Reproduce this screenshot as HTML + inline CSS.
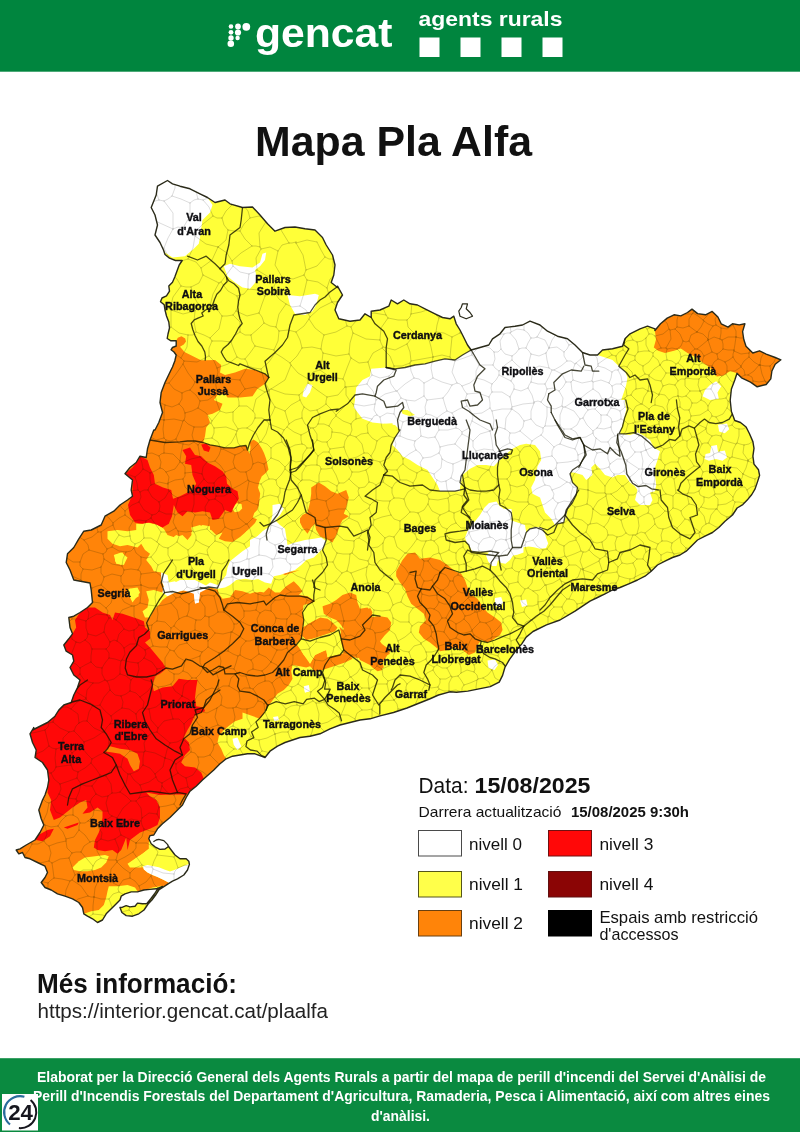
<!DOCTYPE html>
<html lang="ca"><head><meta charset="utf-8"><title>Mapa Pla Alfa</title>
<style>html,body{margin:0;padding:0;background:#fff}body{width:800px;height:1132px;overflow:hidden}svg{display:block}.ls{font-family:"Liberation Sans",sans-serif}</style></head><body>
<svg width="800" height="1132" viewBox="0 0 800 1132">
<rect x="0" y="0" width="800" height="1132" fill="#ffffff"/>
<rect x="0" y="0" width="800" height="71.7" fill="#00853e"/>
<g fill="#fff">
<circle cx="231" cy="26.5" r="2.3"/><circle cx="238" cy="26.5" r="2.9"/><circle cx="246.3" cy="26.8" r="3.9"/>
<circle cx="231" cy="32.3" r="2.4"/><circle cx="238" cy="32.5" r="3.1"/>
<circle cx="231" cy="38" r="2.7"/><circle cx="237.6" cy="38" r="2.2"/>
<circle cx="230.8" cy="43.8" r="3.3"/>
<text class="ls" x="255" y="46.5" font-size="40" font-weight="bold" textLength="137.5" lengthAdjust="spacingAndGlyphs">gencat</text>
<text class="ls" x="418.5" y="26.4" font-size="21" font-weight="bold" textLength="144" lengthAdjust="spacingAndGlyphs">agents rurals</text>
<rect x="419.5" y="37.5" width="20" height="19.5"/><rect x="460.5" y="37.5" width="20" height="19.5"/><rect x="501.5" y="37.5" width="20" height="19.5"/><rect x="542.5" y="37.5" width="20" height="19.5"/>
</g>
<text class="ls" x="255" y="156" font-size="43" font-weight="bold" fill="#111" textLength="277" lengthAdjust="spacingAndGlyphs">Mapa Pla Alfa</text>
<g id="map" stroke-linejoin="round" stroke-linecap="round">
<clipPath id="cat"><polygon points="157.5,186.2 167.5,180.5 172.5,183.8 180,186.2 190,188.8 200,193.8 207.5,197.5 215,202.5 225,200 230,203.8 242.5,207.5 252.5,207 260,215 267.5,223.8 275,231.2 285,227.5 295,227 305,228.8 315,230 322.5,237.5 326.2,245 332.5,255 335,265 333.8,275 331.2,282.5 337.5,287.5 337.5,286.2 342.5,295 337.5,302.5 335,310 338.8,318.8 350,321.2 360,320 365,313.8 371.2,317.5 371.2,311.2 380,310 388.8,306.2 391.2,300 397.5,303.8 403.8,300 410,303.8 417.5,305 425,308.8 435,313.8 442.5,317.5 450,318.8 453.8,316.2 456.2,323.8 460,330 463.8,337.5 467.5,345 471.2,350 480,347.5 488.8,345 492.5,338.8 500,333.8 505,327.5 515,326.2 522.5,325 530,321.2 540,325 547.5,331.2 557.5,336.2 567.5,338.8 575,345 582.5,352.5 590,355 597.5,355 602.5,350 612.5,348.8 622.5,346.2 625,338.8 630,333.8 640,328.8 647.5,326.2 655,328.8 654.9,330.5 660.5,323.8 667.2,318.1 674,314.8 680.8,315.9 687.5,312.5 692,309.1 697.6,313.6 705.5,314.8 712.2,311.4 717.9,317 721.2,323.8 728,327.1 732.5,323.8 739.2,324.9 744.9,323.8 742.6,331.6 743.8,339.5 746,346.2 752.8,353 759.5,350.8 766.2,354.1 775.2,357.5 780.9,359.8 775.2,364.2 771.9,371 770.8,378.9 766.2,384.5 757.2,386.8 750.5,382.2 741.5,377.8 737,373.2 734.8,380 731.4,389 730.2,400.2 731.4,411.5 734.8,420.5 740.5,422.5 746.1,427 749.5,433.8 752.9,441.6 754,448.4 752.9,456.2 754,464.1 758.5,469.8 759.6,475.4 757.4,482.1 755.1,488.9 751.8,494.5 747.2,500.1 742.8,504.6 737.1,508 732.5,515 725,521.2 718.8,527.5 712.5,532.5 705,536.2 697.5,540 692.5,545 686.2,551.2 680,555 672.5,557.5 665,561.2 657.5,565 651.2,571.2 645,576.2 637.5,580 628.8,583.8 620,587.5 612.5,590 605,593.8 597.5,597.5 590,601.2 582.5,606.2 575,611.2 560,620 546.5,624.8 533,631.5 526.2,637.1 521.8,643.9 515,651.8 509.4,659.6 504.9,667.5 502.6,675.4 499.2,682.1 490.2,686.6 479,688.9 467.8,691.1 456.5,692.2 449.8,691.8 438.5,695 429.5,699 418.2,703.5 407,708 393.5,712.5 380,715.9 370,718.8 360,720 350,722.5 340,725 330,728.8 320,733.8 310,736.2 300,737.5 292.5,740 285,742.5 277.5,746.2 270,751.2 265,757.5 261.2,756.2 255,753.8 247.5,753.8 240,755 232.5,756.2 226.2,758.8 220,763.8 213.8,770 202.5,780 196.2,786.2 190,791.2 186.2,797.5 182.5,805 177.5,810 170,817.5 162.5,823.8 157.5,828.8 153.8,835 150,835.6 148.8,838.8 151.2,843.8 155,846.9 160,849.4 165,849 168.5,846.5 171.2,850 175,855 180,858.8 186.2,858.8 188.8,861.2 189.4,864.4 187.5,870 183.8,875 177.5,878.8 172.5,881.2 168.1,883.8 158.8,890 155.6,895 151.9,900 148.1,904 144,910 138.8,913.8 132.5,916.2 126.2,915.6 121.9,912.5 120,907.5 122.5,907.2 126.2,905.6 130,906.9 135,906.2 137.5,903.1 142.5,903.8 146.9,903.5 150.6,899 154.4,894 156.9,890 162.5,886.5 156.2,888.8 150,889.4 143.8,890 137.5,891.9 131.2,891.9 125,893.8 121.2,896.2 120,900 113.8,906.2 110,910 106.2,913.8 102.5,920 97.5,922.5 92.5,918.8 87.5,916.2 83.8,913.8 82.5,907.5 78.8,902.5 72.5,898.8 65,896.2 57.5,893.8 51.2,890 45,887.5 41.2,882.5 45,877.5 47.5,872.5 45,866.2 37.5,862.5 30,858.8 25,857.5 22.5,852.5 18.8,853.8 16.2,850 20,848.8 26.2,845 35,840 40,832.5 43.8,825 41.2,818.8 38.8,810 42.5,800 45,795 47.5,787.5 48.8,780 47.5,770 42.5,762.5 35,757.5 36.2,750 32.5,742.5 30,733.8 33.8,727.5 32.5,730 37.5,727.5 47.5,722.5 55,716.2 58.8,710 63.8,705 71.2,702.5 73.8,695 77.5,687.5 80,680 73.8,675 70,667.5 73.8,661.2 72.5,655 66.2,651.2 63.8,645 68.8,638.8 72.5,633.8 70,627.5 68.8,617.5 73.8,616.2 80,612.5 87.5,607.5 92.5,602.5 91.2,590 90,583 73.8,580 70,570 66.2,562.5 67.5,553.8 73.8,547.5 78.8,538.8 83.8,531.2 91.2,530 101.2,525 105,516.2 113.8,511.2 120,505 127.5,500 132.5,496.2 131.2,490 132.5,480 125,473.8 130,467.5 136.2,462.5 140,456.2 146.2,457.5 147.5,448.8 150,440 153.8,430 155,430 158.8,422.5 162.5,412.5 160,402.5 161.2,392.5 165,382.5 171,370 172.5,367 174.8,361 176.2,355 174,352 171,349.8 172.5,347.5 176.2,346 176.2,340.8 171,340.8 167.2,338.5 168,334 169.5,328 168.8,322 166.5,316 165,310 164.2,304.8 160.5,301.8 162,298 166.5,295.8 169.5,291.2 168.8,286 172.5,282.2 174.8,277 177,271 179.2,265 182.2,260.5 175.5,260.5 169.5,258.2 165,254.5 163.5,250 160,242.5 155,235 157.5,225 155,215 151.2,207.5 156.2,195"/></clipPath><clipPath id="wcl"><polygon points="157.5,186.2 167.5,180.5 172.5,183.8 180,186.2 190,188.8 200,193.8 207.5,197.5 212.5,205 210,212.5 202.5,220 201.2,228.8 200,237.5 198.8,243.8 193.8,248.8 185,256.2 172.5,257.5 165,252.5 160,242.5 155,235 157.5,225 155,215 151.2,207.5 156.2,195"/><polygon points="223.8,266.2 230,263.8 240,266.2 252.5,267.5 260,262.5 262.5,253.8 266.2,252.5 265,260 260,266.2 255,270 257.5,280 250,288.8 242.5,287.5 235,282.5 227.5,276.2"/><polygon points="287.5,295 300,296.2 315,293.8 318.8,295 316.2,305 312.5,311.2 305,315 295,313.8 290,305"/><polygon points="307.5,383.8 312.5,385 310,392.5 306.2,397.5 302.5,396.2 303.8,390"/><polygon points="386.2,367.5 395,368.8 405,367.5 415,365 425,363.8 435,361.2 445,358.8 455,360 462.5,355 471.2,350 480,347.5 488.8,345 492.5,338.8 500,333.8 505,327.5 515,326.2 522.5,325 530,321.2 540,325 547.5,331.2 557.5,336.2 567.5,338.8 575,345 582.5,352.5 590,355 597.5,355 605,357.5 612.5,360 618.8,366.2 625,371.2 627.5,377.5 626.2,385 623.8,392.5 621.2,400 625,400 626.2,410 623.8,420 620,433.8 630,435 637.5,432.5 642.5,435 650,440 653.8,447.5 660,451.2 657.5,460 655,467.5 655,475 656.2,485 655,491.2 650,492.5 652.5,500 650,505 640,505 635,500 637.5,490 635,486.2 630,482.5 625,475 617.5,475 612.5,477.5 605,475 600,468.8 595,463.8 591.2,467.5 592.5,475 586.2,480 582.5,475 573.8,472.5 570,472.5 572.5,482.5 577.5,487.5 576.2,495 572.5,502.5 567.5,508.8 566.2,516.2 563.8,522.5 557.5,523.8 555,525 551.2,518.8 545,512.5 542.5,505 540,497.5 532.5,493.8 531.2,487.5 535,480 536.2,473.8 537.5,466.2 541.2,460 540,451.2 535,445 526.2,443.8 520,445 512.5,448.8 505,455 497.5,462.5 493.8,466.2 486.2,465 477.5,465 470,468.8 462.5,475 460,487.5 460,491.2 440,491.2 437.5,485 432.5,477.5 427.5,470 417.5,465 410,460 402.5,456.2 397.5,450 392.5,445 395,437.5 400,430 395,425 383.8,423.8 372.5,422.5 362.5,418.8 353.8,407.5 355,400 355,397.5 356.2,387.5 362.5,380 370,376.2 371.2,368.8"/><polygon points="465,537.5 468,530 474,522.5 480,515 484.5,507.5 489,503 496.5,501.5 499.5,506 504,509 511.5,509 512.2,515 510.8,522.5 511.5,530 511.5,535.2 517.5,535.2 525,536 526.5,532.2 529.5,528.5 535.5,527 541.5,527.8 544.5,532.2 546,537.5 548.2,543.5 546,548 540,548.8 534,547.2 528.8,546.5 523.5,547.2 523.5,552.5 517.5,554.8 513,555.5 510,560 505.5,563.8 501,563 498,560 496.5,566 492,566 488.2,561.5 486,555.5 489,552.5 480,551.8 472.5,551.8 469.5,546.5 466.5,542"/><polygon points="161.2,572.5 167.5,575 168.8,582.5 175,581.2 180,586.2 187.5,582.5 195,585 205,586.2 210,582.5 217.5,585 222.5,580 226.2,575 227.5,567.5 230,561.2 236.2,556.2 242.5,551.2 250,546.2 256.2,537.5 262.5,531.2 270,526.2 277.5,527.5 285,533.8 286.2,540 280,546.2 275,548.8 272.5,557.5 273.8,565 272.5,575 267.5,582.5 260,578.8 252.5,580 245,578.8 236.2,580 230,585 225,587.5 217.5,588.8 210,587.5 200,588 198.8,602.5 195,602.5 193.8,591.2 185,590 175,592.5 167.5,596.2 162.5,592.5 163.8,586.2 161.2,580"/><polygon points="272.5,505 280,503.8 283.8,508.8 280,515 275,520 280,525 285,528.8 286.2,536.2 287.5,545 295,542.5 305,540 313.8,538.8 321.2,537.5 326.2,541.2 323.8,547.5 318.8,552.5 313.8,557.5 306.2,560 301.2,565 295,570 287.5,572.5 280,575 273.8,576.2 271.2,583.8 265,582.5 260,580 250,575 250,540 260,535 267.5,532.5 270,525 272.5,515"/><polygon points="143.1,866.2 147.5,865 152.5,866 158.8,867.2 165,869.8 170,871.5 175,869.8 182.5,866.5 189,864 191.2,870 186.2,877.5 177.5,881.2 172.5,883.1 168.8,882.8 163.8,880 157.5,876.9 152.5,875 147.5,872.5 143.8,869.4"/><polygon points="546,500 547.5,507.5 550.5,515 555,521 559.5,523.2 564,521 564.8,515 566.2,509 570,507.5 570,500"/><polygon points="710,385 716.2,381.2 721.2,386.2 717.5,392.5 718.8,398.8 710,400 702.5,396.2 705,390"/><polygon points="471.2,540 475,547.5 482.5,550 490,551.2 497.5,552.5 505,551.2 512.5,552.5 520,550 525,545 527.5,540 525,525 510,520 490,522.5 475,530"/><polygon points="495,598 501.2,597 503,602.5 500,607.5 495,605.5"/><polygon points="232.5,738.8 237.5,737.5 241.2,746.2 237.5,750 233.8,745"/><polygon points="273,717 278,716.2 279,720 274.5,721.2"/><polygon points="303.8,687 308,686.2 309,691.2 305,692.5"/><polygon points="303.8,686.2 308.8,685 310,691.2 305,692.5"/><polygon points="520,600.5 526.2,599.5 527.5,605.5 522,607"/><polygon points="487.5,660.5 495,659.5 498,665 494.5,670 488.5,668"/><polygon points="718,424.8 727,423.6 729.2,429.2 724.8,433.3 719.1,431.5"/><polygon points="711.2,446.1 716.9,445 718,451.8 724.8,450.6 727,457.4 722.5,460.8 715.8,458.9 709,460.8 704.5,458.9 705.6,454 710.1,452.9"/><polygon points="162.5,587.5 170,585 180,580 195,580 210,587.5 200,592.5 198.8,602.5 195,603.8 193.8,593.8 182.5,590 175,592.5 167.5,595 163.8,592.5"/></clipPath>
<g clip-path="url(#cat)">
<polygon points="157.5,186.2 167.5,180.5 172.5,183.8 180,186.2 190,188.8 200,193.8 207.5,197.5 215,202.5 225,200 230,203.8 242.5,207.5 252.5,207 260,215 267.5,223.8 275,231.2 285,227.5 295,227 305,228.8 315,230 322.5,237.5 326.2,245 332.5,255 335,265 333.8,275 331.2,282.5 337.5,287.5 337.5,286.2 342.5,295 337.5,302.5 335,310 338.8,318.8 350,321.2 360,320 365,313.8 371.2,317.5 371.2,311.2 380,310 388.8,306.2 391.2,300 397.5,303.8 403.8,300 410,303.8 417.5,305 425,308.8 435,313.8 442.5,317.5 450,318.8 453.8,316.2 456.2,323.8 460,330 463.8,337.5 467.5,345 471.2,350 480,347.5 488.8,345 492.5,338.8 500,333.8 505,327.5 515,326.2 522.5,325 530,321.2 540,325 547.5,331.2 557.5,336.2 567.5,338.8 575,345 582.5,352.5 590,355 597.5,355 602.5,350 612.5,348.8 622.5,346.2 625,338.8 630,333.8 640,328.8 647.5,326.2 655,328.8 654.9,330.5 660.5,323.8 667.2,318.1 674,314.8 680.8,315.9 687.5,312.5 692,309.1 697.6,313.6 705.5,314.8 712.2,311.4 717.9,317 721.2,323.8 728,327.1 732.5,323.8 739.2,324.9 744.9,323.8 742.6,331.6 743.8,339.5 746,346.2 752.8,353 759.5,350.8 766.2,354.1 775.2,357.5 780.9,359.8 775.2,364.2 771.9,371 770.8,378.9 766.2,384.5 757.2,386.8 750.5,382.2 741.5,377.8 737,373.2 734.8,380 731.4,389 730.2,400.2 731.4,411.5 734.8,420.5 740.5,422.5 746.1,427 749.5,433.8 752.9,441.6 754,448.4 752.9,456.2 754,464.1 758.5,469.8 759.6,475.4 757.4,482.1 755.1,488.9 751.8,494.5 747.2,500.1 742.8,504.6 737.1,508 732.5,515 725,521.2 718.8,527.5 712.5,532.5 705,536.2 697.5,540 692.5,545 686.2,551.2 680,555 672.5,557.5 665,561.2 657.5,565 651.2,571.2 645,576.2 637.5,580 628.8,583.8 620,587.5 612.5,590 605,593.8 597.5,597.5 590,601.2 582.5,606.2 575,611.2 560,620 546.5,624.8 533,631.5 526.2,637.1 521.8,643.9 515,651.8 509.4,659.6 504.9,667.5 502.6,675.4 499.2,682.1 490.2,686.6 479,688.9 467.8,691.1 456.5,692.2 449.8,691.8 438.5,695 429.5,699 418.2,703.5 407,708 393.5,712.5 380,715.9 370,718.8 360,720 350,722.5 340,725 330,728.8 320,733.8 310,736.2 300,737.5 292.5,740 285,742.5 277.5,746.2 270,751.2 265,757.5 261.2,756.2 255,753.8 247.5,753.8 240,755 232.5,756.2 226.2,758.8 220,763.8 213.8,770 202.5,780 196.2,786.2 190,791.2 186.2,797.5 182.5,805 177.5,810 170,817.5 162.5,823.8 157.5,828.8 153.8,835 150,835.6 148.8,838.8 151.2,843.8 155,846.9 160,849.4 165,849 168.5,846.5 171.2,850 175,855 180,858.8 186.2,858.8 188.8,861.2 189.4,864.4 187.5,870 183.8,875 177.5,878.8 172.5,881.2 168.1,883.8 158.8,890 155.6,895 151.9,900 148.1,904 144,910 138.8,913.8 132.5,916.2 126.2,915.6 121.9,912.5 120,907.5 122.5,907.2 126.2,905.6 130,906.9 135,906.2 137.5,903.1 142.5,903.8 146.9,903.5 150.6,899 154.4,894 156.9,890 162.5,886.5 156.2,888.8 150,889.4 143.8,890 137.5,891.9 131.2,891.9 125,893.8 121.2,896.2 120,900 113.8,906.2 110,910 106.2,913.8 102.5,920 97.5,922.5 92.5,918.8 87.5,916.2 83.8,913.8 82.5,907.5 78.8,902.5 72.5,898.8 65,896.2 57.5,893.8 51.2,890 45,887.5 41.2,882.5 45,877.5 47.5,872.5 45,866.2 37.5,862.5 30,858.8 25,857.5 22.5,852.5 18.8,853.8 16.2,850 20,848.8 26.2,845 35,840 40,832.5 43.8,825 41.2,818.8 38.8,810 42.5,800 45,795 47.5,787.5 48.8,780 47.5,770 42.5,762.5 35,757.5 36.2,750 32.5,742.5 30,733.8 33.8,727.5 32.5,730 37.5,727.5 47.5,722.5 55,716.2 58.8,710 63.8,705 71.2,702.5 73.8,695 77.5,687.5 80,680 73.8,675 70,667.5 73.8,661.2 72.5,655 66.2,651.2 63.8,645 68.8,638.8 72.5,633.8 70,627.5 68.8,617.5 73.8,616.2 80,612.5 87.5,607.5 92.5,602.5 91.2,590 90,583 73.8,580 70,570 66.2,562.5 67.5,553.8 73.8,547.5 78.8,538.8 83.8,531.2 91.2,530 101.2,525 105,516.2 113.8,511.2 120,505 127.5,500 132.5,496.2 131.2,490 132.5,480 125,473.8 130,467.5 136.2,462.5 140,456.2 146.2,457.5 147.5,448.8 150,440 153.8,430 155,430 158.8,422.5 162.5,412.5 160,402.5 161.2,392.5 165,382.5 171,370 172.5,367 174.8,361 176.2,355 174,352 171,349.8 172.5,347.5 176.2,346 176.2,340.8 171,340.8 167.2,338.5 168,334 169.5,328 168.8,322 166.5,316 165,310 164.2,304.8 160.5,301.8 162,298 166.5,295.8 169.5,291.2 168.8,286 172.5,282.2 174.8,277 177,271 179.2,265 182.2,260.5 175.5,260.5 169.5,258.2 165,254.5 163.5,250 160,242.5 155,235 157.5,225 155,215 151.2,207.5 156.2,195" fill="#ffff38" stroke="none" stroke-width="0" />
<polygon points="171,349.8 172.5,347.5 176.2,346 176.2,340.8 177.8,337.8 181.5,336.2 185.2,338.5 186,341.5 183.8,344.5 180,346.8 184.5,352 190.5,355 196.5,358 201,360.2 205.5,360.2 215,360 221.2,365 220,372.5 225,375 235,372.5 245,368.8 255,370 265,373.8 268.8,377.5 265,383.8 257.5,388.8 252.5,396.2 240,397.5 227.5,397.5 225,393.8 217.5,395 213.8,400 222.5,403.8 220,410 212.5,413.8 207.5,415 210,422.5 206.2,427.5 205,436.2 203.2,442.5 210,444.8 217.5,446.2 225,447.8 234,447.8 240,446.2 246,445.5 247.5,450 249.8,453.8 250.5,447 249.8,442.5 253.5,439.5 258,442.5 261.8,448.5 264,453 266.2,459 268.5,469.5 265.5,473.2 261.8,476.2 259.5,481.5 258,487.5 260.2,493.5 259.5,499.5 258.8,505.5 257.2,510 254.2,513 252.8,517.5 258,519.8 258.8,522 255,525 250.5,528 246,531.8 240,542.5 250,546.2 260,557.5 272.5,565 275,575 285,575 292.5,572.5 300,570 200,590 210,587.5 218.8,590 223.8,593.8 228.8,588.8 235,590 242.5,591.2 250,593.8 257.5,591.2 263.8,592.5 268.8,587.5 275,592.5 280,592.5 286.2,586.2 293.8,581.2 298.8,586.2 302.5,591.2 298.8,595 307.5,596.2 315,601.2 310,603.8 303.8,605 302.5,612.5 303.8,620 302.5,627.5 312.5,621.2 320,617.5 327.5,618.8 332.5,622.5 337.5,627.5 335,631.2 327.5,633.8 320,636.2 312.5,638.8 306.2,640 302.5,636.2 300,640 296.2,643.8 300,648.8 303.8,655 307.5,657.5 310,663.8 315,655 322.5,651.2 326.2,650 327.5,657.5 335,655 342.5,653.8 350,655 352.5,658.8 345,662.5 337.5,665 330,667.5 322.5,670 315,671.2 310,666.2 306.2,667.5 300,666.2 292.5,665 291.2,671.2 292.5,678.8 288.8,685 283.8,690 277.5,693.8 273.8,698.8 270,703.8 266.2,707.5 263.8,713.8 260,718.8 242.5,712.5 242.5,718.8 235,721.2 230,725 223.8,730 218.8,736.2 217.5,742.5 221.2,748.8 223.8,755 226.2,758.8 220,763.8 213.8,770 202.5,780 196.2,786.2 190,791.2 186.2,797.5 182.5,805 177.5,810 170,817.5 162.5,823.8 157.5,828.8 153.8,835 150,837.5 148.8,842.5 148.8,848.8 142.5,853.8 135,858.8 127.5,863.8 130,867.5 142.5,867.5 148.8,875 155,880 162.5,883 160,886.2 152.5,887.5 145,890 137.5,891.2 130,893.8 123.8,896.2 120,900 113.8,906.2 110,910 106.2,913.8 102.5,920 97.5,922.5 92.5,918.8 87.5,916.2 83.8,913.8 82.5,907.5 78.8,902.5 72.5,898.8 65,896.2 57.5,893.8 51.2,890 45,887.5 41.2,882.5 45,877.5 47.5,872.5 45,866.2 37.5,862.5 30,858.8 25,857.5 22.5,852.5 18.8,853.8 16.2,850 20,848.8 26.2,845 35,840 40,832.5 43.8,825 41.2,818.8 38.8,810 42.5,800 45,795 47.5,787.5 48.8,780 47.5,770 42.5,762.5 35,757.5 36.2,750 32.5,742.5 30,733.8 33.8,727.5 32.5,730 37.5,727.5 47.5,722.5 55,716.2 58.8,710 63.8,705 71.2,702.5 73.8,695 77.5,687.5 80,680 73.8,675 70,667.5 73.8,661.2 72.5,655 66.2,651.2 63.8,645 68.8,638.8 72.5,633.8 70,627.5 68.8,617.5 73.8,616.2 80,612.5 87.5,607.5 92.5,602.5 91.2,590 90,583 73.8,580 70,570 66.2,562.5 67.5,553.8 73.8,547.5 78.8,538.8 83.8,531.2 91.2,530 101.2,525 105,516.2 113.8,511.2 120,505 127.5,500 132.5,496.2 131.2,490 132.5,480 125,473.8 130,467.5 136.2,462.5 140,456.2 146.2,457.5 147.5,448.8 150,440 153.8,430 155,430 158.8,422.5 162.5,412.5 160,402.5 161.2,392.5 165,382.5 171,370 172.5,367 174.8,361 176.2,355 174,352 171,349.8" fill="#ff8409" stroke="none" stroke-width="0" />
<polygon points="654.9,330.5 660.5,323.8 667.2,318.1 674,314.8 680.8,315.9 687.5,312.5 692,309.1 697.6,313.6 705.5,314.8 712.2,311.4 717.9,317 721.2,323.8 728,327.1 732.5,323.8 739.2,324.9 744.9,323.8 742.6,331.6 743.8,339.5 746,346.2 752.8,353 759.5,350.8 766.2,354.1 775.2,357.5 780.9,359.8 775.2,364.2 771.9,371 770.8,378.9 766.2,384.5 757.2,386.8 750.5,382.2 741.5,377.8 737,373.2 730.2,371 723.5,375.5 716.8,376.6 710,367.6 703.2,363.1 696.5,357.5 687.5,353 680.8,348.5 674,350.8 665,353 658.2,350.8 653.8,347.4 656,339.5" fill="#ff8409" stroke="none" stroke-width="0" />
<polygon points="311.2,487.5 318.8,482.5 325,486.2 331.2,491.2 337.5,493.8 346.2,490 348.8,497.5 346.2,507.5 343.8,513.8 348.8,516.2 342.5,520 340,525 337.5,532.5 332.5,542.5 326.2,538.8 320,536.2 316.2,530 315,523.8 311.2,527.5 307.5,533.8 302.5,527.5 298.8,520 302.5,515 307.5,512.5 310,502.5 311.2,493.8" fill="#ff8409" stroke="none" stroke-width="0" />
<polygon points="396.2,571.2 402.5,560 407.5,553.8 415,552.5 420,558.8 430,557.5 440,560 447.5,565 455,571.2 461.2,573.8 465,580 467.5,587.5 470,593.8 477.5,598.8 482.5,606.2 487.5,612.5 495,617.5 501.2,622.5 502.5,630 500,635 492.5,640 487.5,642.5 481.2,640 477.5,645 475,652.5 468.8,655 462.5,650 455,647.5 447.5,650 440,651.2 436.2,647.5 430,642.5 423.8,638.8 418.8,632.5 420,626.2 426.2,620 423.8,613.8 417.5,608.8 411.2,603.8 407.5,596.2 405,588.8 400,582.5 396.2,576.2" fill="#ff8409" stroke="none" stroke-width="0" />
<polygon points="322.5,606.2 330,603.8 336.2,600 342.5,595 350,592.5 356.2,595 357.5,602.5 360,608.8 367.5,607.5 371.2,611.2 372.5,617.5 380,616.2 387.5,617.5 391.2,622.5 390,630 385,635 380,641.2 383.8,647.5 390,653.8 387.5,655 382.5,662.5 383.8,667.5 378.8,670 375,665 370,662.5 362.5,658.8 357.5,652.5 350,650 345,645 341.2,641.2 340,635 343.8,628.8 340,623.8 336.2,620 330,617.5 323.8,613.8" fill="#ff8409" stroke="none" stroke-width="0" />
<polygon points="370,607.5 372.5,612.5 370,617.5 377.5,616.2 385,617.5 390,622.5 387.5,627.5 381.2,631.2 377.5,636.2 380,642.5 385,646.2 391.2,650 387.5,655 380,652.5 376.2,657.5 380,665 382.5,670 377.5,671.2 372.5,667.5 370,665 360,660 355,650 357.5,640 362.5,627.5 365,615" fill="#ff8409" stroke="none" stroke-width="0" />
<polygon points="339.4,626.4 341.1,632.5 340.2,639.5 341.1,646.5 342,653.5 347.2,654.9 352.5,657.4 359.5,657.9 363,659.6 357.8,650 352.5,639.5 345.5,632.5" fill="#ff8409" stroke="none" stroke-width="0" />
<polygon points="137.5,525 146.2,522.5 157.5,525 163.8,528.8 167.5,535 175,537.5 182.5,535 187.5,540 192.5,533.8 191.2,527.5 200,525 205,528.8 211.2,530 216.2,535 222.5,532.5 218.8,538.8 225,541.2 232.5,542 240,537 247.5,530.5 255,523 260,513 265,507.5 272.5,500 300,500 300,532.5 286.2,540 280,546.2 275,548.8 272.5,557.5 273.8,565 272.5,575 282.5,573.8 290,577.5 287.5,585 280,588.8 273.8,585 270,580 267.5,583.8 265,590 257.5,592.5 250,591.2 242.5,588.8 235,590 230,597.5 222.5,598.8 218.8,593.8 217.5,588.8 210,587.5 200,588 193.8,591.2 185,590 175,592.5 167.5,596.2 162.5,600 158.8,605 153.8,610 150,617.5 145,617.5 142.5,611.2 147.5,607.5 148.8,600 146.2,591.2 153.8,590 162.5,592.5 163.8,586.2 161.2,580 161.2,572.5 153.8,571.2 151.2,566.2 146.2,560 150,553.8 145,550 141.2,543.8 137.5,535" fill="#ffff38" stroke="none" stroke-width="0" />
<polygon points="107.5,531.2 117.5,530 127.5,531.2 136.2,530 136.2,523.8 142.5,524.5 148.8,523 155,524.5 162.5,528 165,535 170,540 176.2,535 182.5,537.5 187.5,545 192.5,540 191.2,532.5 196.2,528.8 202.5,525 210,526.2 210,540 200,547.5 185,547.5 165,547.5 150,545 142.5,542.5 137.5,547.5 132.5,546.2 127.5,545 120,546.2 112.5,543.8 107.5,538.8" fill="#ffff38" stroke="none" stroke-width="0" />
<polygon points="113.8,555 121.2,552.5 127.5,557.5 123.8,565 116.2,563.8" fill="#ffff38" stroke="none" stroke-width="0" />
<polygon points="130,588.8 137.5,590 138.8,596.2 132.5,600 128.8,595" fill="#ffff38" stroke="none" stroke-width="0" />
<polygon points="115,555 122.5,552.5 126.2,558.8 121.2,565 115,561.2" fill="#ffff38" stroke="none" stroke-width="0" />
<polygon points="128.8,588.8 137.5,587.5 140,592.5 136.2,597.5 132.5,602.5 130,597.5 127.5,593.8" fill="#ffff38" stroke="none" stroke-width="0" />
<polygon points="233.2,505.5 237,503.2 241.5,504 242.2,508.5 239.2,511.5 234.8,512.2 232.5,509.2" fill="#ffff38" stroke="none" stroke-width="0" />
<polygon points="72.5,867.5 78.8,861.2 85,857.5 95,856.2 105,855 108.8,856.2 106.2,862.5 101.2,867.5 95,870 87.5,871.2 80,871.2 73.8,870" fill="#ffff38" stroke="none" stroke-width="0" />
<polygon points="108.8,886.2 117.5,886.2 127.5,885 135,887.5 137.5,891.2 130,893.8 123.8,896.2 120,900 113.8,906.2 110,910 106.2,913.8 102.5,920 97.5,922.5 92.5,918.8 87.5,916.2 83.8,913.8 91.2,911.2 98.8,910 103.8,905 106.2,897.5 107.5,891.2" fill="#ffff38" stroke="none" stroke-width="0" />
<polygon points="303.8,605 310,603.8 315.5,601.2 322.5,605 321.2,611.2 320,617.5 312.5,621.2 302.5,627.5 303.8,620 302.5,612.5" fill="#ffff38" stroke="none" stroke-width="0" />
<polygon points="306.2,640.5 320,637 335,632 340,635 341.2,642.5 343.8,651.2 342.5,653.8 327.5,657 326.2,650 315,655 310,663.8 303.8,655 300,648.8 297,643.8" fill="#ffff38" stroke="none" stroke-width="0" />
<polygon points="125.5,473.8 132.5,467.5 137.5,461.2 140.5,456.2 147.5,460 150,467.5 153.8,475 155,483.8 163,487.5 171.2,490 173,498.8 180,496.2 187.5,492.5 192.5,490 196.2,483.8 192.5,475 191.2,465 185,463.8 186.2,456.2 182.5,450 190,447.5 195,455 201.2,456.2 207.5,462.5 215,466.2 222.5,471.2 226.2,476.2 227,483.8 232.5,488.8 237.5,491.2 238.8,498.8 235,505 231.2,512.5 225,510 218.8,518.8 212.5,520 210,512.5 202.5,511.2 195,512.5 187.5,511.2 182.5,516.2 177.5,512.5 173.8,505 172,516.2 168.8,523.8 162.5,527.5 155,523.8 148.8,522.5 142.5,523.8 135,522.5 130,515 128,505 131.2,497.5 132.5,491.2 132.5,480" fill="#ff0808" stroke="none" stroke-width="0" />
<polygon points="201.2,444.5 206.2,443.8 210.5,447.5 208.8,452 203.8,450.5" fill="#ff0808" stroke="none" stroke-width="0" />
<polygon points="87.5,607.5 95,607.5 102.5,612.5 110,615 112.5,620 115,612.5 122.5,613.8 130,616.2 137.5,618.8 143.8,621.2 145,627.5 150,631.2 150,638.8 145,642.5 150,647.5 156.2,655 162.5,662.5 166.2,668.8 160,673.8 155,676.2 152.5,685 153.8,691.2 162.5,687.5 172.5,686.2 178.8,678.8 187.5,680 197.5,680 196.2,687.5 195,697.5 196.2,706.2 203.8,707.5 205,711.2 197.5,713.8 203.8,707.5 201.2,712.5 195,715 191.2,723.8 187.5,730 183.8,737.5 188.8,742.5 190,750 185,755 181.2,762.5 185,766.2 195,767.5 201.2,772.5 203.8,778.8 197.5,785 191.2,791.2 185,795 177.5,793.8 185,794.5 172.5,794.5 160,795 146.2,792.5 150,796.2 156.2,800 160,807.5 160,817.5 157.5,825 150,828.8 140,832.5 130,840 127.5,850 126.2,837.5 123.8,843.8 121.2,850 117.5,853.8 112.5,850 105,851.2 97.5,850 93.8,847.5 95,840 98.8,832.5 101.2,825 102.5,817.5 102.5,811.2 97.5,807.5 90,812.5 82.5,813.8 87.5,807.5 86.2,800 80,802.5 72.5,807.5 66.2,812.5 60,817.5 53.8,820 50,810 51.2,800 47.5,792.5 48.8,780 47.5,770 42.5,762.5 35,757.5 36.2,750 32.5,742.5 30,733.8 33.8,727.5 32.5,730 37.5,727.5 47.5,722.5 55,716.2 58.8,710 63.8,705 71.2,702.5 73.8,695 77.5,687.5 80,680 73.8,675 70,667.5 73.8,661.2 72.5,655 66.2,651.2 63.8,645 68.8,638.8 72.5,633.8 76.2,627.5 75,620 80,612.5" fill="#ff0808" stroke="none" stroke-width="0" />
<polygon points="36.2,836.2 47.5,830 53.8,828.8 50,836.2 42.5,841.2 36.2,840" fill="#ff0808" stroke="none" stroke-width="0" />
<polygon points="63.8,827.5 75,823.8 78.8,822.5 77.5,825 67.5,828.8" fill="#ff0808" stroke="none" stroke-width="0" />
<polygon points="103.8,751.2 110,746.2 120,748.8 130,750 137.5,753.8 140,761.2 138.8,768.8 133.8,771.2 130,765 127.5,758.8 120,753.8 112.5,752.5" fill="#ff8409" stroke="none" stroke-width="0" />
<polygon points="128.1,864.4 135,858.8 142.5,853.8 150,848.1 150,842.5 155,846.9 160,849.4 165,849 168.5,846.5 171.2,850 175,855 180,858.8 186.2,857.5 191.2,861.2 190.6,864.4 182.5,866.5 175,869.8 170,871.5 165,869.8 158.8,867.2 152.5,866 147.5,865 143.1,866.2 137.5,863.8 132.5,865" fill="#ffff38" stroke="none" stroke-width="0" />
<polygon points="141.2,865.6 143.8,869.4 147.5,872.5 152.5,875 157.5,876.9 163.8,880 168.8,882.5 168.5,884.8 162.5,887 155,881.5 148.8,876.5 141.9,869" fill="#ff8409" stroke="none" stroke-width="0" />
</g>
<path d="M65 555L73 548L77 537M776 357L774 362L770 366M776 357L782 362L785 368M770 366L771 372L776 376M776 357L776 357M16 853L17 834L9 816M296 242L292 243L289 243M289 243L281 230L272 218M267 220L259 216L250 218M244 206L248 211L250 218M770 366L765 366L760 365M776 357L770 355L764 352M760 365L761 358L764 352M775 379L771 382L766 382M760 365L760 365M760 365L762 374L765 381M765 381L766 382M164 248L109 250L56 264M173 229L151 219L127 220M143 167L153 183L159 200M127 220L140 205L159 200M-0 808L21 804L43 799M38 779L40 789L43 799M71 687L78 693L86 698M71 687L74 679L80 674M80 674L85 681L93 683M86 698L87 690L93 683M16 853L21 854L25 855M25 855L28 859L31 863M30 869L37 875L41 882M20 821L32 823L43 822M20 821L26 833L32 844M44 841L38 844L32 844M44 841L47 834L45 825M45 825L43 822M43 799L46 802L49 803M49 803L47 813L43 822M25 855L29 850L32 844M51 802L49 803M51 802L56 812L66 816M45 825L51 827L58 826M66 816L61 821L58 826M413 713L406 709L398 709M390 723L396 717L398 709M390 723L381 716L372 710M369 726L372 718L372 710M249 761L256 757L262 751M271 754L267 752L262 751M267 220L259 233L260 247M240 231L244 224L250 218M240 231L245 239L252 246M252 246L256 246L260 247M175 180L175 188L172 196M240 231L234 231L228 230M252 246L241 253L232 261M232 261L227 253L218 247M228 230L226 240L218 247M188 259L196 262L201 268M188 259L193 248L195 236M201 268L212 260L218 247M218 247L206 244L195 236M317 242L321 250L325 257M317 242L307 240L296 243M296 243L303 255L306 270M306 270L317 266L325 257M539 528L541 524L544 520M539 528L547 534L553 540M544 520L550 520L556 519M556 519L560 521L563 524M563 524L563 526M563 526L560 533L556 540M553 540L556 540M553 540L550 545L547 549M556 540L559 544L564 546M564 546L564 551L565 556M565 556L560 558L555 558M547 549L551 553L555 558M764 352L763 350M766 382L767 388L764 394M83 569L80 566L80 562M83 569L81 574L81 580M81 580L72 576L62 578M62 578L66 568L67 558M67 558L73 562L80 562M92 588L97 586L101 585M92 588L88 586L84 585M101 567L92 570L83 569M101 567L101 573L104 577M84 585L83 582L81 580M104 577L103 581L101 585M65 555L67 558M133 918L132 913L129 910M129 910L122 912L115 914M111 921L103 915L93 914M86 921L89 917L93 914M132 901L130 906L129 910M132 901L126 896L119 892M115 914L112 907L109 899M109 899L113 894L119 892M150 912L146 906L144 899M157 895L151 897L144 899M144 829L142 837L136 843M144 829L142 825L141 821M136 843L136 843M141 821L131 819L121 824M121 824L119 829L121 835M121 835L129 839L136 843M68 623L72 619M72 619L70 611L70 602M41 882L44 882L48 883M51 899L48 891L48 883M31 863L40 863L49 861M44 841L46 844L49 846M49 846L51 853L49 861M413 713L415 705L418 698M398 709L397 704L394 700M394 700L394 700M394 700L400 695L406 690M418 698L412 695L406 690M394 700L389 693L387 684M387 684L388 681M407 684L406 687L406 690M407 684L404 680L400 677M400 677L394 679L388 681M394 700L384 701L374 704M387 684L377 684L369 689M369 689L374 696L374 704M372 710L372 709M374 704L372 709M307 600L312 602M307 600L304 608L296 614M296 614L303 618L308 624M316 617L315 609L312 602M316 617L315 621L311 624M311 624L308 624M264 704L262 702L258 701M264 704L265 712L268 719M247 709L254 707L258 701M247 709L247 718L251 726M268 719L258 720L251 726M284 715L289 719L291 725M284 715L277 720L269 720M269 720L272 727L275 734M291 725L290 729L288 732M288 732L282 732L275 734M275 734L275 734M264 704L269 700L275 697M275 697L276 698M276 698L281 703L286 709M286 709L285 712L284 715M268 719L269 720M295 741L290 738L288 732M275 734L276 742L277 751M262 751L260 746L259 740M259 740L267 738L275 734M295 741L303 738L311 735M327 773L313 757L311 735M301 722L296 722L291 725M301 722L307 724L313 728M311 735L312 732L313 728M331 735L324 731L318 725M313 728L315 726L318 725M318 725L318 725M289 243L282 245L278 251M260 247L261 249M278 251L270 247L261 249M244 206L238 205L233 204M228 230L224 225L222 218M233 204L226 211L222 218M296 242L296 243M306 270L304 275M278 251L275 265L282 277M304 275L293 279L282 277M175 262L168 256L164 248M188 259L181 261L175 262M201 268L202 272L203 275M171 274L177 279L181 286M181 286L186 287L191 287M203 275L199 283L191 287M403 243L414 278L411 314M430 309L421 312L411 314M765 381L759 382L753 381M753 381L752 387L749 394M563 526L569 533L576 538M564 546L569 542L576 540M576 540L576 538M519 572L515 571L512 568M519 572L518 577L518 582M518 582L513 583L509 584M509 584L505 580L502 575M502 575L504 572L506 569M512 568L506 569M539 529L530 524L521 524M547 549L543 550M543 550L537 546L533 540M519 520L521 524M519 520L515 519L511 519M565 556L566 557M576 540L579 545L581 551M566 557L574 554L581 551M755 479L758 477L761 475M755 479L755 482L755 486M755 486L759 488L762 493M747 490L751 487L755 486M747 490L749 495L749 500M762 468L755 464L748 461M757 453L753 457L748 460M748 460L748 461M158 687L165 686L171 684M158 687L153 684M153 684L153 682M153 682L156 676L157 669M171 684L174 680L174 674M174 674L169 671L165 666M157 669L162 668L165 666M130 691L136 693L140 697M130 691L130 685L131 680M140 697L148 691L153 684M131 680L134 677L137 676M137 676L145 680L153 682M144 658L152 662L157 669M144 658L141 661L138 663M138 663L139 669L137 676M119 886L118 889L119 892M119 886L123 880L130 878M139 898L141 892L139 886M139 886L135 881L130 878M80 674L80 671L80 668M71 662L76 664L80 668M93 683L99 683L105 680M105 680L102 674L102 668M102 668L96 667L91 662M80 668L85 665L91 662M107 681L105 680M107 681L114 679L120 674M102 668L105 663L109 658M120 674L120 667L121 661M109 658L115 659L121 661M138 663L130 662L122 660M120 674L126 676L131 680M122 660L121 661M178 773L176 769L176 764M178 773L170 778L162 783M155 774L163 767L165 758M155 774L156 777M162 783L158 781L156 777M176 764L171 760L165 758M92 786L94 790L96 794M92 786L96 781L100 775M96 794L102 797L108 796M100 775L103 776L106 776M106 776L111 784L112 793M108 796L112 793M155 774L150 768L143 765M156 777L149 782L140 785M143 765L138 771L130 774M140 785L134 780L130 774M121 767L124 771L128 774M121 767L118 767M118 767L111 770L106 776M112 793L116 793L120 792M128 774L126 784L120 792M117 818L123 808L131 801M117 818L112 816M112 816L109 814L108 811M108 811L106 803L108 796M120 792L126 796L131 801M141 821L142 818M121 824L119 821L117 818M131 801L136 801M142 818L141 808L136 801M144 829L150 831L157 832M157 832L159 827L162 822M162 822L159 818L157 814M142 818L149 813L157 814M140 785L142 791L139 798M130 774L128 774M136 801L139 798M162 786L160 793L154 798M162 786L167 792L174 795M174 795L176 800L174 804M174 804L166 806L159 807M159 807L158 802L154 798M162 783L162 786M139 798L147 796L154 798M162 822L168 824L175 822M175 822L178 816L177 808M177 808L174 804M157 814L158 810L159 807M59 794L61 789L60 784M59 794L67 798L76 799M60 784L69 781L77 778M76 799L79 792L81 784M77 778L79 781L81 784M51 802L56 799L59 794M60 784L54 779L51 773M46 773L51 773M33 754L36 754M46 773L39 764L36 754M48 883L51 880L54 878M65 899L66 890L70 881M54 878L62 879L70 881M49 861L52 863M54 878L53 870L52 863M73 815L78 818L80 823M73 815L73 808L77 801M77 801L83 801L90 802M80 823L85 823L88 821M88 821L93 816L94 810M94 810L92 806L90 802M66 816L69 815L73 815M76 799L77 801M92 786L86 786L81 784M96 794L92 798L90 802M112 816L105 821L99 828M108 811L101 811L94 810M99 828L95 822L88 821M418 698L423 695M423 695L425 697L428 699M434 727L432 713L428 699M428 699L432 699L436 697M441 703L439 699L436 697M423 679L427 673L433 670M423 679L423 682L425 685M425 685L431 688L438 687M433 670L436 675L440 679M440 679L440 683L438 687M407 684L413 679L420 678M420 678L423 679M423 695L422 690L425 685M439 689L436 692L436 697M439 689L438 687M483 563L489 564M483 563L480 569L476 575M489 564L491 571L494 577M481 581L488 581L494 577M481 581L476 579M494 577L494 577M476 579L476 575M474 555L471 561L464 564M474 555L477 555M464 564L472 568L476 575M477 555L481 558L483 563M502 575L498 576L494 577M496 558L492 561L489 564M506 569L501 565L499 558M485 594L490 595L495 593M485 594L481 588L481 581M496 593L495 593M496 593L493 585L494 577M509 584L508 588L506 592M506 592L501 592L496 593M471 583L465 578L458 575M471 583L473 580L476 579M458 575L459 570L459 565M464 564L459 565M485 594L482 597M482 597L483 602L485 607M495 593L493 602L496 611M485 607L490 610L496 611M482 597L476 597L469 597M471 583L470 588L467 592M467 592L469 597M525 589L523 593L521 596M525 589L521 586L518 582M506 592L509 595L512 599M521 596L516 596L512 599M477 555L479 551M307 600L304 596L302 591M312 602L319 598L325 597M302 591L304 586L306 581M326 583L316 581L306 581M326 583L327 584M327 584L325 590L325 597M316 617L321 616L326 616M326 616L331 611L333 604M325 597L329 601L333 604M311 624L314 628L317 631M326 616L331 619L332 624M332 624L331 627L329 630M329 630L323 630L317 631M352 655L347 660L343 666M352 655L343 652L337 645M331 656L331 661L335 665M331 656L333 652L334 647M343 666L339 667L335 665M337 645L334 647M329 630L335 636L337 644M317 631L317 637L316 642M316 642L326 643L334 647M337 644L337 645M247 709L242 709L236 707M258 701L257 695L253 689M253 689L250 688M250 688L244 688L239 692M236 707L240 700L239 692M275 697L275 690L272 683M253 689L258 684L265 681M272 683L269 681L265 681M308 624L304 630L299 634M316 642L313 645L310 648M299 634L305 640L310 648M315 660L323 661L331 656M315 660L311 656L309 649M309 649L310 648M249 729L249 733L251 736M249 729L241 730L233 726M251 736L246 743L240 749M228 730L230 727L233 726M228 730L227 736L227 742M227 742L229 746L234 749M234 749L240 749M259 740L254 739L251 736M251 726L249 729M233 708L236 707M233 708L235 717L233 726M249 761L244 756L240 749M217 708L215 717L218 725M217 708L221 705M218 725L223 727L228 730M233 708L227 708L221 705M223 767L226 756L234 749M233 204L225 196L224 185M213 216L209 207L203 200M213 216L203 224L194 233M222 218L217 218L213 216M224 185L216 195L203 200M218 247L218 247M190 170L194 184L198 199M304 275L307 280M307 280L304 293L300 306M282 277L279 278L277 281M300 306L292 307L286 304M286 304L279 299L274 292M274 292L274 286L277 281M261 249L256 258L257 270M277 281L267 276L257 270M233 266L232 261M249 274L254 272L257 270M200 307L205 306L210 306M200 307L194 297L191 287M203 275L211 279L219 283M210 306L213 294L219 283M233 266L227 274L221 282M221 282L219 283M181 286L173 297L170 309M145 283L155 296L166 308M166 308L170 309M200 307L197 309L195 311M195 311L183 314L171 310M170 309L171 310M325 257L329 259L333 259M333 259L386 209L442 162M332 432L332 429L329 426M332 432L341 433L348 436M348 436L350 435M351 424L352 430L350 435M351 424L343 421L336 416M329 426L332 420L336 416M337 274L330 279L327 288M327 288L329 295L332 302M360 292L348 301L332 302M332 302L332 302M333 259L333 267L337 274M307 280L318 282L327 288M300 306L306 310L310 317M310 317L320 308L332 302M386 315L377 294L381 272M386 315L374 313L361 315M361 315L356 321L351 327M351 327L347 326M347 326L343 312L332 302M310 317L309 319M309 319L315 328L324 335M324 335L336 332L347 326M430 309L434 313L439 318M458 312L447 312L439 318M324 335L322 342L321 349M351 327L353 333M321 349L323 353M323 353L336 356L349 354M353 333L350 343L349 354M343 379L347 368L351 358M343 379L330 377L320 370M320 370L322 361L323 353M351 358L349 354M414 333L408 327L407 320M414 333L411 339L407 344M407 344L395 350L383 347M407 320L398 320L388 318M388 318L381 328L380 340M380 340L381 343L383 347M386 315L388 318M411 314L410 317L407 320M353 333L366 339L380 340M482 509L484 512L487 512M482 509L479 501L480 494M487 512L493 505L503 503M492 490L497 496L504 501M492 490L487 493L481 492M503 503L504 501M481 492L480 494M471 512L469 520L467 528M471 512L476 509L482 509M467 528L469 532M511 519L508 510L503 503M605 493L605 489L605 486M605 493L596 493L588 490M605 486L599 479L593 472M588 490L588 480L593 472M563 524L568 520L573 518M573 518L574 512L575 507M575 507L572 505L571 502M575 507L581 506L587 504M587 504L588 497L588 490M588 490L581 489L573 487M581 467L587 469L593 471M581 467L574 474L570 483M588 490L588 490M593 472L593 471M519 520L522 511L529 504M544 520L539 514L536 507M536 507L533 505L529 504M536 507L545 504L553 498M539 459L537 465L533 470M539 459L546 457L552 456M533 470L539 472L543 477M529 471L521 464L519 455M529 471L533 470M530 446L536 452L539 459M530 446L524 447L520 452M520 452L519 455M530 446L532 441M510 443L516 447L520 452M529 471L528 472M519 455L512 457L508 462M528 472L519 470L511 472M508 462L511 467L511 472M538 604L533 606L527 606M538 604L539 608L540 613M540 613L537 617L532 620M527 606L525 608L524 612M524 612L527 616L531 620M531 620L532 620M538 602L538 595L533 591M538 602L538 604M525 589L528 588M528 588L533 591M521 596L522 602L527 606M548 617L548 623L546 629M548 617L544 615L540 613M532 620L535 624L537 629M537 629L541 630L546 629M586 532L590 537L593 542M586 532L587 529L588 525M590 524L588 525M590 524L597 523L604 527M593 542L597 543L602 542M602 542L606 539L608 535M604 527L607 530L608 535M589 550L586 552L583 552M589 550L591 546L593 542M576 538L581 535L586 532M581 551L583 552M573 518L582 520L588 525M593 509L591 506L587 504M593 509L592 517L590 524M593 509L601 515L611 515M593 509L593 509M611 515L611 515M611 515L608 522L604 527M617 537L622 536L626 533M617 537L613 535L608 535M626 533L623 527L621 520M621 520L616 518L611 515M512 568L513 562L515 558M515 558L512 553L510 549M538 557L533 556L528 555M538 557L539 562M539 562L535 567L531 572M526 557L528 555M526 557L526 563L525 570M525 570L531 572M543 550L541 554L538 557M525 545L526 550L528 555M515 558L521 559L526 557M519 572L522 569L525 570M528 588L532 583L533 576M533 576L531 572M447 529L451 525L456 523M447 529L442 527L439 522M456 523L454 518L454 513M439 522L438 518L440 515M440 515L445 513L449 511M454 513L449 511M464 508L467 511L471 512M464 508L459 511L454 513M467 528L461 528L456 523M474 555L467 553L463 547M458 564L459 565M458 564L456 559L456 553M463 547L459 549L456 553M469 533L467 536L463 539M463 547L463 543L463 539M562 626L562 624L560 621M548 617L549 616M549 616L554 620L560 621M583 569L581 569M583 569L580 561L583 552M566 557L568 560L569 565M569 565L576 565L581 569M541 577L543 572L547 568M541 577L543 581L545 585M545 585L546 585M546 585L553 583L560 579M550 568L547 568M550 568L554 573L559 575M559 575L560 579M533 576L537 576L541 577M539 562L544 564L547 568M533 591L540 590L545 585M555 558L552 563L550 568M569 565L564 570L559 575M600 559L594 555L589 550M600 559L599 561M583 569L583 569M599 561L591 565L583 569M599 561L601 567L603 573M583 569L583 570M583 570L592 573L599 579M603 573L601 576L599 579M442 618L437 624L430 626M442 618L439 612L434 609M426 609L430 608L434 609M426 609L425 616L425 623M425 623L430 626M688 480L695 480L701 478M688 480L690 486L688 493M688 493L694 493L699 491M699 491L701 488L702 484M702 484L702 481L701 478M682 474L685 477L688 480M682 474L688 470L694 466M694 466L700 467M700 467L703 472M703 472L702 475L701 478M704 497L700 495L699 491M704 497L709 498L714 495M714 495L715 494M715 494L714 490L713 487M713 487L708 485L702 484M703 472L707 471L711 472M711 472L715 476L717 480M713 487L716 484L717 480M749 500L747 502L744 503M744 503L748 512L749 521M757 453L755 447L753 441M748 460L743 453L744 445M744 445L749 444L753 441M787 442L770 447L753 441M752 432L752 437L753 441M753 441L753 441M704 457L703 463L700 467M704 457L709 457L713 455M711 472L714 469L716 466M716 466L715 461L713 455M694 437L700 433L706 429M694 437L699 439L702 444M702 444L704 443L708 443M708 443L710 439L712 436M706 429L707 433L712 436M704 457L701 455L699 452M699 452L700 448L702 444M714 454L712 448L708 443M122 708L123 702L121 696M122 708L116 712L111 716M100 705L105 711L111 716M100 705L104 697L110 690M110 690L115 695L121 696M86 698L86 699M107 681L109 685L110 690M86 699L89 702L93 705M93 705L96 706L100 705M130 691L126 694L121 696M196 678L200 684L206 690M196 678L200 674L203 668M203 668L209 670L216 672M216 672L219 680L218 689M206 690L212 688L218 690M218 689L218 690M183 671L184 666L185 661M183 671L188 673L192 678M192 678L196 678M185 661L192 659L200 656M200 656L200 663L203 668M208 647L213 650L219 653M208 647L205 650L202 652M219 653L221 661L220 668M220 668L216 672M202 652L200 656M221 705L222 697L218 690M239 692L234 689L229 686M229 686L223 686L218 689M174 651L179 645L187 643M174 651L170 650M167 647L170 650M167 647L170 638L171 628M171 628L174 626M174 626L180 631L187 636M187 636L187 639L187 643M185 661L178 657L174 651M202 652L193 649L187 643M183 671L179 674L174 674M165 666L165 658L170 650M153 646L149 648L145 650M153 646L160 647L167 647M145 650L146 654L144 658M152 625L150 636L153 646M152 625L154 623L157 621M157 621L165 622L171 628M187 616L183 617L179 619M187 616L192 618L196 620M196 620L195 625L195 630M195 630L190 632L187 636M179 619L176 622L174 626M195 630L204 633L208 641M208 641L208 644L208 647M156 849L157 844L160 839M156 849L158 852L157 855M157 855L166 856L174 857M174 857L183 849L186 837M136 843L147 843L156 849M136 843L136 848L133 852M133 852L138 859L142 865M142 865L146 867L152 867M152 867L154 861L157 855M193 807L185 806L177 808M139 886L146 882L151 876M130 878L130 873M130 873L135 868L142 865M151 876L152 873L153 869M157 895L159 889M151 876L154 884L159 889M70 658L73 650L76 642M72 639L76 642M68 623L71 631L72 639M145 650L141 647L137 644M122 660L125 654L124 648M124 648L130 644L137 644M139 625L145 626L152 625M139 625L137 628L134 630M134 630L134 637L137 644M198 757L204 757L210 755M198 757L195 753L191 752M189 745L191 748L191 752M189 745L197 739L206 735M206 735L211 739L214 745M214 745L213 750L210 755M218 725L212 727L207 730M207 730L206 735M227 742L220 742L214 745M222 767L216 761L210 755M209 787L199 785L190 789M209 777L203 772L197 769M197 769L193 775L186 778M186 778L187 782L188 787M190 789L188 787M222 767L214 770L209 777M193 807L195 798L190 789M198 757L199 763L197 769M178 773L182 776L186 778M176 764L184 758L191 752M174 795L180 789L188 787M93 705L89 712L87 721M110 724L107 727L104 732M110 724L112 720L111 716M87 721L94 728L103 732M104 732L103 732M71 905L78 899L88 896M70 881L72 880M88 896L81 886L72 880M93 914L93 906L94 897M88 896L91 897L94 897M109 899L101 899L94 897M94 897L94 897M483 678L488 675L492 670M483 678L489 682L491 688M492 670L495 678L502 682M477 694L476 687L477 680M483 678L478 679M477 680L478 679M492 670L492 670M492 670L486 666L482 661M474 672L477 675L478 679M474 672L475 669L474 665M474 665L478 662L482 661M499 663L500 659L498 656M499 663L495 666L492 670M498 656L491 654L484 654M482 661L483 657L484 654M498 656L499 653M485 641L483 645L482 650M485 641L488 639L491 638M499 653L494 646L491 638M484 654L482 650M499 663L505 665L510 667M451 676L449 672L447 668M451 676L446 679L440 679M434 667L437 665M434 667L433 670M447 668L442 668L437 665M420 678L416 672L413 665M400 677L401 673L401 670M413 665L407 666L401 670M388 681L383 676L382 669M382 669L389 666L395 663M401 670L399 665L395 663M376 651L386 653L396 650M376 651L378 659L377 666M377 666L382 669M395 663L393 656L396 650M439 689L444 691L449 691M449 691L450 696L448 700M363 629L359 625L355 620M363 629L358 632L355 637M355 637L351 635L346 636M346 636L342 629L344 621M355 620L349 621L344 621M344 621L344 621M370 629L366 628L363 629M370 629L373 619L374 610M374 610L371 607L368 605M361 604L364 605L368 605M361 604L360 613L355 620M360 651L367 647L374 649M360 651L355 645L355 637M374 649L376 641L375 633M375 633L373 630L370 629M360 651L356 655M356 655L352 655M337 644L341 640L346 636M332 624L338 621L344 621M340 605L337 603L333 604M340 605L342 613L344 621M351 677L356 683L362 688M351 677L357 673L361 667M371 670L368 679L369 688M371 670L366 669L361 667M369 688L365 688L362 688M356 655L358 661L361 667M350 677L351 677M350 677L348 671L343 666M369 689L369 688M377 666L374 669L371 670M374 649L376 651M372 709L367 710L362 710M362 688L356 694L350 700M350 700L357 704L362 710M358 727L357 723L355 719M355 719L357 713L362 710M472 631L472 630M472 631L474 635M472 630L476 626L480 622M474 635L479 638L485 641M480 622L486 623M492 637L491 638M492 637L492 634M492 634L490 628L486 623M291 614L296 614M291 614L289 606L284 599M302 591L296 592L291 592M284 599L286 594L291 592M271 458L268 461L264 464M271 458L279 461L285 467M264 464L266 472L269 479M269 479L273 479L276 480M276 480L281 475L285 469M285 467L285 469M327 584L332 584L336 581M340 605L346 601L351 598M336 581L345 588L351 598M361 604L357 600L351 598M351 598L351 598M301 722L298 714L300 706M318 725L319 714L316 703M316 703L313 701M313 701L307 704L300 706M286 709L291 706L297 705M300 706L297 705M276 698L283 693L291 690M297 705L296 697L291 690M272 683L276 679L280 677M280 677L284 684L292 687M292 687L291 690M318 725L328 722L337 716M316 703L320 703L324 702M324 702L330 709L337 716M350 700L347 700M355 719L348 715L341 715M347 700L344 708L341 715M340 730L341 723L339 717M341 715L339 717M339 717L337 716M250 688L248 682L246 676M229 686L231 678L237 673M246 676L241 676L237 673M220 668L227 668L234 669M234 669L237 673M299 634L294 634L290 635M293 655L289 652L287 648M293 655L300 650L309 649M287 648L288 642L290 635M287 619L286 627L288 634M287 619L281 619L276 618M271 627L275 623L276 618M271 627L271 631L274 634M274 634L281 636L288 634M291 614L289 617L287 619M288 634L290 635M259 313L247 316L236 311M259 313L262 304L265 296M265 296L258 290L248 289M248 289L244 294L237 296M237 296L239 304L236 311M264 323L262 317L259 313M264 323L270 326L276 327M286 304L279 314L276 327M274 292L269 293L265 296M249 274L248 281L248 289M221 282L228 291L237 296M290 363L297 356L302 348M290 363L283 358L275 353M274 350L275 353M274 350L278 341L279 331M302 348L300 340L296 332M279 331L288 330L296 332M291 365L290 363M291 365L298 373L308 379M308 379L313 372L320 370M321 349L312 347L302 348M264 323L258 329L251 335M276 327L279 331M251 335L252 341L255 346M255 346L264 348L274 350M309 319L304 326L296 332M291 365L285 380L271 389M261 369L269 362L275 353M261 369L264 380L269 390M269 390L271 389M265 392L256 399L253 411M265 392L255 387L245 389M253 411L247 406L239 406M245 389L241 393L238 397M238 397L239 402L239 406M188 335L179 333L171 327M188 335L187 347L181 358M171 327L160 335L152 348M181 358L168 349L152 348M196 332L194 322L195 311M196 332L193 335L188 335M171 310L171 319L171 327M76 352L118 323L166 308M533 318L537 323L542 328M550 326L546 327L542 328M529 319L524 324L524 330M512 307L509 319L511 332M483 346L485 343L484 340M504 334L500 334L496 331M409 574L406 580L402 585M409 574L405 568L399 563M395 584L399 584L402 585M395 584L393 580L390 576M399 563L396 570L390 576M426 541L422 550L423 560M426 541L421 541L417 539M423 560L416 554L406 553M406 553L412 546L417 539M409 574L415 576L420 575M423 560L424 561M424 561L423 568L420 575M399 563L399 561M399 561L402 557L405 553M406 553L405 553M359 488L358 491L359 495M359 488L354 484L349 479M349 479L344 483L339 483M337 486L339 483M337 486L337 490M337 490L341 496L347 500M359 495L354 500L347 500M326 501L333 496L337 490M326 501L327 506L329 511M329 511L338 509L346 509M347 500L347 505L346 509M428 504L429 499M428 504L432 511L440 515M449 511L449 504L448 498M429 499L438 500L448 498M332 432L331 438L327 442M327 442L328 446L330 449M348 436L345 441L344 447M344 447L337 448L330 449M352 472L349 467L348 461M352 472L359 472L366 470M366 470L371 466L373 460M348 461L349 459M349 459L357 457L364 453M364 453L368 453L371 456M371 456L373 460M359 488L365 487L369 482M349 479L351 476L352 472M369 482L368 476L366 470M385 469L385 476L383 482M385 469L382 466L380 462M369 482L373 483L376 485M376 485L379 483L383 482M380 462L377 461L373 460M356 437L350 435M356 437L362 444L364 453M344 447L346 453L349 459M368 433L361 434L356 437M368 433L372 438L377 441M377 441L375 449L371 456M375 404L364 406L353 404M372 419L364 417L356 419M356 419L356 411L353 404M350 401L346 395L346 387M350 401L353 404M346 387L356 386L367 384M351 424L353 421L356 419M368 433L367 425L372 419M336 415L336 416M336 415L343 408L350 401M463 334L467 344L472 354M458 312L462 322L460 333M463 334L460 333M428 336L433 335L436 332M428 336L431 347L433 357M436 332L444 333L452 337M452 337L451 347L450 357M433 357L442 355L450 357M439 318L437 325L436 332M414 333L421 336L428 336M460 333L456 335L452 337M455 361L452 360L450 357M382 348L373 353L368 362M382 348L390 356L394 366M394 366L393 372L389 376M368 362L370 369L372 375M351 358L359 363L368 362M383 347L382 348M343 379L345 382L345 387M345 387L346 387M742 320L745 323L748 325M733 324L733 325M733 324L729 318L726 312M733 325L727 329L721 328M718 314L715 319L716 325M721 328L716 325M742 320L737 321L733 324M748 335L744 338M733 325L736 331L736 337M744 338L740 338L736 337M758 348L754 349L750 351M744 338L746 345L750 351M760 365L759 365M753 381L752 377L748 375M748 375L754 371L759 365M743 412L739 416L734 418M744 405L735 406L728 401M728 401L728 405L727 408M727 408L732 412L734 418M101 567L103 563L104 559M80 562L83 554L89 550M89 550L96 552L103 554M104 559L103 554M255 418L255 414L253 411M255 418L252 424L247 428M247 428L242 428L238 429M239 406L236 409L233 412M238 429L233 421L233 412M217 392L215 395M217 392L228 392L238 397M215 395L217 403L220 411M220 411L226 413L233 412M140 603L148 605L156 606M140 603L141 594L141 585M141 585L149 588L157 588M157 588L155 597L156 606M157 621L158 614L157 606M179 619L177 610L171 603M171 603L164 605L157 606M134 606L137 605L140 603M134 606L134 616L139 625M157 606L156 606M196 620L201 620L205 616M208 641L212 637L215 633M215 633L209 626L209 617M205 616L209 617M104 577L112 574L121 576M101 585L107 590L113 596M120 595L116 596L113 596M120 595L123 591L124 586M121 576L121 582L124 586M104 559L112 564L122 566M122 566L124 570M121 576L123 574L124 570M134 606L132 606M132 606L124 602L120 595M141 585L141 585M124 586L132 586L141 585M622 503L618 509L611 513M622 503L616 499L611 494M611 513L608 505L606 496M611 494L606 494M606 496L606 494M593 509L598 501L606 496M611 515L611 513M605 493L606 494M622 486L617 481L614 475M622 486L617 491L611 494M605 486L609 480L614 475M626 502L628 505L630 507M626 502L628 499L629 495M630 507L638 506L644 502M629 495L634 495L639 491M631 511L630 507M631 511L628 517L621 520M622 503L626 502M623 486L622 486M623 486L626 491L629 495M623 486L627 483L630 480M654 484L653 489L652 493M652 493L648 494L644 497M524 485L517 487L510 485M524 485L528 489L529 495M528 502L528 499L529 495M528 502L517 502L507 499M507 499L511 492L510 485M528 472L527 479L524 485M511 472L510 476L507 479M507 479L509 482L510 485M545 485L536 489L529 495M529 504L528 502M504 501L507 499M492 490L497 485L497 479M497 479L502 479L507 479M433 357L433 357M433 378L431 368L433 357M407 344L410 352L411 361M433 357L422 359L411 361M394 366L402 366L410 363M411 361L410 363M470 460L478 467L488 470M497 458L492 463L489 470M488 470L489 470M478 481L473 480L468 477M478 481L482 475L488 470M468 477L467 469L469 461M508 462L503 458L497 458M497 479L492 476L489 470M478 481L479 487L481 492M510 639L501 636L492 637M510 639L510 633M492 634L498 628L503 622M510 633L507 627L503 622M527 638L519 638L511 641M527 638L529 638M518 655L515 650L511 647M511 647L511 641M523 627L525 632L527 638M523 627L518 626M510 639L511 641M510 633L513 628L518 626M531 620L526 622L523 627M537 629L533 634L529 638M499 653L504 648L511 647M449 550L450 544L449 538M449 550L445 552L440 554M440 554L439 553M439 553L438 546L434 541M434 541L440 537L447 536M447 536L449 538M463 539L456 540L449 538M456 553L452 552L449 550M458 564L452 565L446 565M446 565L442 560L440 554M428 561L433 568L441 572M428 561L433 555L439 553M446 565L443 568L441 572M431 540L434 541M431 540L426 541M424 561L428 561M431 540L432 533L432 526M432 526L435 524L439 522M447 529L446 532L447 536M581 569L578 577L571 582M560 579L561 581M571 582L566 583L561 581M633 535L629 535L626 533M633 535L630 542L630 549M617 537L615 543L616 550M630 549L625 551L622 554M622 554L619 552L616 550M602 542L603 548L606 554M616 550L610 551L606 554M600 559L605 556M605 556L606 554M633 535L635 535M630 549L632 555L637 559M635 535L643 542L646 552M646 552L644 555L643 559M643 559L637 559M472 631L465 633L458 634M472 630L469 624L464 619M464 619L460 622L456 624M456 624L456 629L458 634M468 598L463 603L458 607M468 598L473 604L475 612M458 607L462 611L465 616M475 612L470 615L465 616M485 607L481 611L477 612M477 612L475 612M469 597L468 598M446 618L448 620M446 618L449 612L452 607M452 607L458 607M464 619L465 616M456 624L452 621L448 620M480 622L478 617L477 612M709 523L716 527L725 528M709 523L706 524M713 540L706 537L700 532M706 524L702 527L700 532M701 507L699 509M701 507L708 509L716 509M699 509L699 510M709 523L711 515L716 509M706 524L704 516L699 510M704 497L704 502L701 507M688 493L687 494M699 509L694 505L689 504M687 494L688 499L689 504M597 469L593 471M597 469L603 469L609 467M725 480L726 474L728 467M725 480L727 482M727 482L733 484L740 481M728 467L728 467M728 467L737 468L743 474M740 481L742 478L743 474M743 474L743 474M717 480L721 479L725 480M716 466L722 468L728 467M715 494L721 494L727 491M727 491L726 486L727 482M733 497L730 494L727 491M733 497L736 491L741 487M741 487L740 481M719 452L725 455L730 458M730 458L728 462L728 467M732 457L740 459L748 461M732 457L730 458M748 461L746 468L743 474M755 479L749 477L743 474M747 490L745 487L741 487M748 461L748 461M733 500L726 504L718 505M733 500L735 502M735 502L733 508L732 514M718 505L717 509M717 509L721 514L727 517M732 514L730 516L727 517M714 495L718 499L718 505M733 497L733 500M744 503L739 502L735 502M749 521L741 515L732 514M716 509L717 509M725 528L726 523L727 517M736 444L737 443M736 444L729 442L723 440M737 443L739 436L739 429M721 436L723 440M721 436L723 431L726 426M726 426L729 426L732 425M739 429L735 428L732 425M732 457L733 450L736 444M744 445L740 444L737 443M719 452L721 446L723 440M747 427L743 429L739 429M712 436L716 435L721 436M727 408L723 414L716 417M716 417L720 423L726 426M734 418L734 421L732 425M140 697L144 702L143 708M122 708L129 709L136 714M143 708L139 710L136 714M165 758L165 758M165 758L167 750L170 743M189 745L186 742L183 739M183 739L177 742L170 743M178 868L175 871L174 874M178 868L185 865L191 867M174 874L174 880L176 884M174 857L176 862L178 868M159 889L168 890L176 884M124 648L121 644L117 641M134 630L129 631L124 629M117 641L119 634L124 629M132 606L122 610L116 620M124 629L121 624L116 620M106 608L108 611L107 615M106 608L100 603L93 602M107 615L97 614L88 619M93 602L90 606L86 607M86 607L89 613L88 619M113 596L111 603L106 608M116 620L113 618L109 618M109 618L107 615M92 588L91 595L93 602M72 619L79 619L86 621M86 621L88 619M51 773L54 771L56 767M36 754L43 751L49 746M56 767L55 758L56 749M49 746L52 748L56 749M28 734L37 732L45 730M49 746L47 738L45 730M18 692L29 712L49 723M45 730L48 727L49 723M119 886L113 883L110 878M94 897L95 888L99 879M110 878L104 878L99 879M130 873L123 868L117 862M110 878L111 869L117 862M133 852L125 857L117 861M117 862L117 861M452 677L458 676M452 677L449 683L449 691M458 676L461 680L464 685M449 691L456 690L462 692M464 685L462 688L462 692M451 676L452 677M449 691L449 691M474 672L467 670L461 673M461 673L458 676M477 680L470 683L464 685M462 693L462 692M461 673L461 668L460 664M447 668L451 665L453 660M453 660L457 662L460 664M474 665L471 662L468 659M460 664L464 661L468 659M482 650L475 651L468 651M468 659L467 655L468 651M437 665L439 660L441 656M453 660L452 655M441 656L446 654L452 655M434 667L428 664L426 659M413 665L414 663M414 663L420 662L426 659M438 650L438 653L441 656M438 650L432 652L426 652M426 652L427 656L426 659M390 610L393 605M390 610L392 614L393 618M393 605L397 603L401 602M393 618L400 622L409 622M401 602L406 606L413 608M413 608L409 614L409 622M376 589L373 597L368 605M376 589L382 591L388 593M374 610L382 611L390 610M388 593L391 599L393 605M375 633L382 632L388 629M388 629L393 624L393 618M388 593L392 589L395 584M406 592L403 589L402 585M406 592L403 596L401 602M422 605L426 609M422 605L417 607L413 608M412 626L409 622M412 626L418 622L425 623M446 618L442 618M452 607L450 604M434 609L437 606L439 602M439 602L444 604L450 604M258 625L257 619L260 613M258 625L264 625L271 627M276 618L274 614L271 611M271 611L265 610L260 613M284 599L279 600L275 600M271 611L271 605L275 600M317 499L316 491L317 483M317 499L312 500L307 503M307 503L304 501L300 498M300 498L299 493L298 488M317 483L310 480L302 480M298 488L298 484L301 481M302 480L301 481M319 482L328 481L337 486M319 482L317 483M326 501L321 500L317 499M280 488L277 485L276 480M280 488L289 490L298 488M285 469L293 475L301 481M291 460L296 462L302 461M291 460L288 464L285 467M306 466L303 464L302 461M306 466L302 473L302 480M306 581L305 579M305 579L297 576L290 571M291 592L285 587L283 579M290 571L287 576L283 579M329 511L329 515L327 518M349 518L342 523L337 530M349 518L350 514M350 514L348 511L346 509M327 518L330 526L337 530M308 510L312 515L316 520M308 510L307 506L307 503M327 518L322 521L316 520M305 579L307 573L310 566M304 560L308 562L310 566M326 583L325 573L321 564M310 566L315 565L321 564M333 562L336 568L342 573M333 562L327 562L322 564M336 581L339 577L342 573M322 564L321 564M327 442L322 442L317 440M329 426L324 424L318 424M317 440L317 434L313 428M318 424L316 427L313 428M318 456L317 460L317 465M318 456L323 452L329 452M329 452L332 457L334 463M317 465L320 466L321 469M321 469L326 469L332 468M332 468L334 463M306 466L311 465L317 465M302 461L303 454L307 448M307 448L311 448M311 448L315 452L318 456M317 440L314 444L311 448M330 449L329 452M348 461L341 462L334 463M319 482L319 475L321 469M339 483L336 475L332 468M298 684L304 688L311 692M298 684L301 678L301 672M311 692L318 686L320 677M301 672L307 671L313 669M313 669L315 674L320 677M313 701L310 697L311 692M292 687L295 686L298 684M292 665L287 668L281 670M292 665L298 667L301 672M280 677L282 673L281 670M315 660L314 665L313 669M292 665L293 660L293 655M342 696L336 697L329 696M342 696L342 689L343 682M329 696L329 687L326 678M343 682L336 680L328 678M328 678L326 678M324 702L327 699L329 696M347 700L344 698L342 696M350 677L347 680L343 682M320 677L323 677L326 678M335 665L332 671L328 678M231 342L222 341L212 341M231 342L234 336L240 332M240 332L240 322L233 315M210 338L219 329L222 316M210 338L212 341M222 316L227 316L233 315M251 335L245 335L240 332M236 311L233 315M196 332L204 335L210 338M210 306L217 309L222 316M184 361L181 358M184 361L197 362L209 356M209 356L209 348L212 341M217 376L218 372L217 368M217 376L229 379L240 380M217 368L228 364L237 357M240 380L244 373L248 366M237 357L241 359L245 359M248 366L247 362L245 359M184 361L183 364M183 364L188 373L195 382M195 382L205 382L215 380M215 380L217 376M209 356L214 361L217 368M215 380L216 386L217 392M245 389L242 384L240 380M231 342L234 350L237 357M261 369L254 368L248 366M269 390L269 391M269 391L265 392M255 346L250 353L245 359M255 418L262 418L267 421M269 391L270 399L275 407M267 421L272 414L275 407M376 589L375 588M390 576L387 575L384 576M384 576L379 582L375 588M357 586L352 591L351 598M357 586L363 584L368 583M375 588L373 584L368 583M432 526L426 525L421 521M417 539L415 534M415 534L417 527L421 521M428 504L424 510L418 513M421 521L420 517L418 513M377 441L382 437L389 436M389 436L382 428L380 417M450 496L447 489L446 481M450 496L456 494L462 496M462 496L464 494M464 494L464 487L462 481M462 481L456 481L451 478M429 499L427 495M448 498L450 496M427 495L434 489L437 480M464 508L463 502L462 496M480 494L472 493L464 494M468 477L465 478L462 481M718 314L715 312L712 311M736 337L735 344L734 350M736 337L728 337L722 340M734 350L728 350L723 349M722 340L723 344L723 349M721 328L721 333L720 339M736 337L736 337M720 339L722 340M750 351L749 353M734 350L734 351M734 351L741 354L749 353M759 365L754 362L749 357M749 353L749 357M748 375L745 375M745 375L739 378L736 385M728 401L726 398M736 387L733 391L728 394M726 398L728 394M716 325L713 326M720 339L714 337L708 340M713 326L709 332L708 339M708 339L708 340M723 349L720 352L717 354M712 352L717 354M712 352L710 346L708 340M708 340L708 340M690 356L691 352L695 349M690 356L693 359L694 364M704 356L703 359L702 363M704 356L701 351L697 349M697 349L695 349M694 364L699 365M702 363L699 365M712 352L708 354L704 356M708 340L702 345L697 349M686 378L686 372M686 378L693 379L699 379M686 372L691 369L694 364M699 379L701 377M701 377L700 371L699 365M667 349L672 348L677 349M667 349L666 354L667 360M677 349L680 352L681 357M667 360L672 361L676 364M681 357L680 360L678 363M678 363L676 364M683 341L681 346L677 349M683 341L686 342L689 341M689 341L692 345L695 349M690 356L685 355L681 357M686 372L683 367L678 363M671 373L674 369L676 364M671 373L675 377L678 381M685 379L681 379L678 381M685 379L686 378M690 420L691 416M690 420L697 424L706 428M691 416L700 415L708 410M706 428L708 422L712 416M712 416L711 413L708 410M694 437L692 437M706 429L706 428M692 437L688 429L689 420M689 420L690 420M716 417L712 416M103 554L106 552L107 549M107 549L112 547M122 566L123 559L126 552M112 547L119 551L126 552M195 382L193 386L190 390M215 395L208 400L200 401M190 390L196 395L200 401M220 411L216 416L212 421M212 421L206 413L198 408M200 401L199 405L198 408M238 429L237 431M212 421L211 423M211 423L214 428M214 428L226 427L237 431M247 428L256 433L260 442M260 442L255 447L250 452M244 450L247 450L250 452M244 450L238 443L236 434M236 434L237 431M198 445L194 442M198 445L204 439L212 438M211 423L203 427L194 427M212 438L214 433L214 428M194 442L192 435L194 427M185 413L192 411L198 408M185 413L185 417L184 420M194 427L188 424L184 420M124 570L131 569L138 570M141 585L140 580L141 574M141 574L140 571L138 570M139 457L115 443L101 420M139 457L132 460L125 464M125 474L121 479L115 483M125 474L130 475L135 477M135 477L137 483L138 490M138 490L129 491L120 490M140 457L142 463L143 469M140 457L139 457M143 469L140 473L135 477M125 464L127 469L125 474M139 502L132 505L125 511M139 502L141 497L140 492M140 492L138 490M125 511L121 507L119 502M140 457L144 454M151 420L157 419L164 420M164 420L164 420M164 420L163 429L164 438M149 436L156 440L164 438M143 469L147 471L150 473M150 473L155 471L160 468M144 454L152 453L159 456M160 468L161 462L159 456M107 549L102 542L101 532M119 535L115 541L112 547M119 535L115 530L113 525M113 525L107 528L101 532M631 511L635 514L638 518M635 535L637 534M637 534L639 526L638 518M410 363L411 371L414 378M503 619L508 616L514 616M503 619L500 615L496 612M496 611L496 612M496 611L502 603L511 601M511 601L511 608L516 614M516 614L514 616M518 626L516 621L514 616M503 622L503 619M486 623L493 620L496 612M496 611L496 611M512 599L511 601M524 612L520 613L516 614M565 613L562 617L560 621M565 613L569 615L574 614M567 599L564 596L561 593M567 599L564 603L562 607M561 593L555 594L550 597M562 607L558 607L554 607M554 607L551 603L549 598M549 598L550 597M571 582L573 585L576 588M561 581L563 587L561 593M576 588L572 593L569 599M569 599L567 599M565 613L563 610L562 607M574 614L577 609L577 604M577 604L574 600L569 599M546 585L547 592L550 597M549 616L550 611L554 607M538 602L544 601L549 598M616 583L616 589L620 594M616 583L611 583L607 586M606 596L605 591L607 586M582 603L586 603L588 606M582 603L584 596L584 588M596 595L595 591L592 589M596 595L593 600L592 605M592 589L588 589L585 588M585 588L584 588M577 604L582 603M576 588L580 587L584 588M606 596L601 595L596 595M607 586L603 584L600 580M600 580L597 585L592 589M583 570L585 579L585 588M599 579L600 580M630 579L625 578L619 576M630 579L634 578M634 578L635 577M635 577L636 570L633 563M633 563L627 564L622 563M618 567L622 563M618 567L617 572M617 572L619 576M616 583L618 580L619 576M627 592L629 586L630 579M656 606L643 593L634 578M656 606L657 588L648 572M648 572L641 574L635 577M622 554L620 558L622 563M637 559L635 561L633 563M605 556L612 560L618 567M603 573L610 573L617 572M700 532L700 532M697 545L700 539L699 533M699 533L700 532M680 537L681 543L686 548M680 537L680 535M697 545L692 549L686 548M699 533L690 535L680 535M699 510L695 516L689 520M700 532L693 527L689 520M666 494L670 495L673 496M666 494L663 490L661 484M661 484L664 480L668 477M676 493L673 496M676 493L675 486L674 479M674 479L671 477L668 477M654 484L658 485L661 484M652 493L657 494L659 498M659 498L662 495L666 494M653 473L658 470L664 470M664 470L667 473L668 477M682 474L682 474M682 474L678 476L674 479M687 494L681 494L676 493M682 474L681 468L678 462M664 470L665 465M678 462L671 462L665 465M672 448L674 454L679 458M672 448L677 443L683 440M687 441L683 440M687 441L687 447L690 452M679 458L683 456L687 456M690 452L687 456M671 447L672 448M671 447L668 448L664 449M664 449L661 454L661 460M678 462L679 458M665 465L663 463L661 460M671 447L669 440L668 432M677 428L672 430L668 432M677 428L681 433L683 440M692 437L690 439L687 441M689 420L684 423L679 424M679 424L677 428M699 452L695 451L690 452M694 466L691 461L687 456M661 460L658 459L654 460M646 450L653 447L661 447M646 438L652 438L657 437M661 447L659 442L657 437M664 449L661 447M668 432L662 430M662 430L659 433L657 437M649 412L644 415L642 421M649 412L654 417L659 422M659 422L659 424M659 424L654 425L649 427M649 427L646 423L642 421M662 430L660 427L659 424M649 427L646 432L646 437M148 736L142 730L134 728M148 736L144 743L145 751M133 728L130 737L125 744M133 728L134 728M125 744L128 747L130 751M130 751L137 752L144 752M144 752L145 751M165 758L155 753L145 751M170 743L163 737L157 732M157 732L152 733L148 736M110 724L122 722L133 728M104 732L108 737L109 743M109 743L117 744L125 744M136 714L137 721L134 728M121 767L123 758L130 751M118 767L113 759L106 752M109 743L108 747L106 752M143 765L143 758L144 752M158 687L161 695L161 703M143 708L146 709L149 709M161 703L156 707L149 709M157 732L158 728M149 709L151 720L158 728M184 724L179 719L173 719M184 724L189 719L194 717M170 706L171 712L173 719M170 706L177 702L182 696M193 703L188 699L182 696M193 703L194 707L196 711M182 696L182 696M196 711L195 714L194 717M183 739L185 732L184 724M158 728L164 721L173 719M207 730L199 725L194 717M161 703L166 704L170 706M171 684L175 691L182 696M192 678L184 685L182 696M206 690L198 695L193 703M217 708L207 713L196 711M106 649L109 646L110 642M106 649L99 649L92 649M110 642L107 637L104 632M104 632L96 636L88 634M92 649L90 644L85 640M85 640L87 638L88 634M109 658L109 653L106 649M117 641L114 640L110 642M91 662L91 656L92 649M109 618L105 625L104 632M86 621L86 628L88 634M76 642L80 643L85 640M78 772L73 770L71 765M78 772L85 768L91 763M71 765L72 759L72 753M72 753L77 749L83 749M83 749L87 754L92 759M91 763L92 759M77 778L78 772M56 767L63 766L71 765M100 775L96 769L91 763M56 749L59 748L63 747M63 747L68 748L72 753M103 732L94 738L84 742M106 752L99 755L92 759M84 742L84 745L83 749M74 731L69 732M74 731L76 726L79 723M69 732L60 728L53 722M79 723L78 714L71 709M53 722L56 714L63 707M63 707L67 707L71 709M84 742L79 736L74 731M63 747L63 738L69 732M87 721L83 721L79 723M49 723L53 722M86 699L77 702L71 709M56 690L57 699L63 707M58 826L63 832L66 839M80 823L79 826L79 830M79 830L74 837L66 839M49 846L57 843L66 841M66 839L66 841M430 626L431 629L432 632M448 620L446 626L444 632M432 632L438 631L444 632M452 654L451 648L450 641M452 654L460 654L467 650M467 648L467 650M467 648L462 641L456 638M456 638L450 640M450 640L450 641M438 650L439 646M452 655L452 654M439 646L445 644L450 641M468 651L467 650M474 635L470 641L467 648M458 634L456 638M444 632L447 636L450 640M439 646L435 641L431 636M431 636L432 632M409 652L414 646L421 644M409 652L403 651L398 648M398 641L405 637L411 632M398 641L399 644L398 648M411 632L415 638L421 643M421 643L421 644M414 663L411 658L409 652M426 652L424 648L421 644M396 650L398 648M412 626L411 628L411 632M388 629L395 634L398 641M431 636L426 640L421 643M437 595L438 592L441 590M437 595L429 596L422 594M441 590L435 586L432 580M422 594L421 592M421 592L422 586L424 581M424 581L428 581L432 580M422 605L421 599L422 594M439 602L437 599L437 595M406 592L414 590L421 592M420 575L422 578L424 581M441 573L435 575L432 580M441 573L441 572M443 590L446 594L451 597M443 590L448 586L450 581M453 581L450 581M453 581L455 586L458 591M458 591L455 594L451 597M450 604L450 600L451 597M441 590L443 590M441 573L446 575L450 581M458 575L454 577L453 581M467 592L462 593L458 591M256 627L248 625L240 621M256 627L258 625M240 621L244 617L244 611M260 613L256 610M244 611L250 611L256 610M302 530L307 529L312 531M302 530L298 537L293 544M312 531L312 531M312 531L309 539L310 548M308 510L301 515L295 521M295 521L298 526L302 530M316 520L314 525L312 531M320 550L322 557L322 564M337 530L337 534M312 531L321 537L331 540M337 534L335 538L331 540M349 518L358 522L362 531M362 531L361 535L359 538M359 538L356 539L354 541M337 534L344 540L354 541M333 562L335 558L337 553M320 550L325 545L331 542M337 553L333 548L331 542M331 542L331 540M295 521L293 521M300 498L291 501L285 508M293 521L287 515L285 508M293 521L287 524L282 529M293 544L289 541L285 539M336 415L331 409L326 404M318 424L320 417L317 410M317 410L322 407L326 404M345 387L338 395L327 397M327 397L326 401L326 404M308 379L308 383M327 397L317 390L308 383M271 389L285 394L299 395M308 383L305 390L299 395M287 648L282 650L277 650M274 634L272 638L269 642M269 642L272 647L277 650M256 627L254 633L255 639M255 639L259 643M269 642L264 641L259 643M246 641L241 647L240 655M246 641L239 636L232 632M231 632L230 641L228 651M231 632L232 632M228 651L233 654L238 656M238 656L240 655M234 624L237 624L240 621M234 624L234 628L232 632M255 639L250 641L246 641M215 633L223 634L231 632M219 653L223 651L228 651M234 669L236 663L238 656M260 442L261 442M267 421L269 424M269 424L266 434L261 442M271 458L271 453L271 448M264 464L258 462L253 464M253 464L252 458L250 452M271 448L267 444L261 442M275 407L280 409L285 411M299 395L300 400M285 411L291 405L300 400M317 410L310 411L304 407M300 400L302 404L304 407M399 561L393 558L387 558M384 576L382 569L376 565M376 565L380 560L387 558M367 567L369 564M367 567L359 570L351 573M369 564L368 561M368 561L359 559L352 553M351 573L347 571M347 571L349 563L350 554M350 554L352 553M368 583L366 575L367 567M376 565L372 565L369 564M357 586L354 580L351 573M387 558L383 551L383 543M383 543L378 547L371 548M371 548L371 555L368 561M359 538L366 542L371 548M354 541L354 547L352 553M342 573L347 571M337 553L343 554L350 554M362 531L368 528L373 525M383 543L385 538M373 525L379 532L385 538M405 553L397 547L394 537M415 534L408 530L400 529M400 529L397 533L394 537M385 538L389 536L394 537M389 436L394 438M400 436L397 436L394 438M380 462L389 458L394 451M394 438L396 444L394 451M385 469L391 470L397 470M383 482L387 485L392 488M392 488L395 483L400 480M400 480L399 475L397 470M712 311L710 311M717 354L718 359M702 363L707 365L712 366M712 366L714 362L718 359M741 366L736 362L733 357M741 366L741 367M741 367L735 371L727 371M733 357L729 360L725 362M725 362L727 366L727 371M734 351L733 354L733 357M749 357L744 361L741 366M745 375L744 370L741 367M736 385L730 380L726 374M726 374L727 371M718 359L721 360L725 362M726 398L721 399L716 399M708 410L708 406M708 406L711 401L716 399M678 396L673 397L669 400M678 396L678 396M678 396L680 402L680 407M669 400L667 406L668 413M680 407L675 409L670 414M670 414L668 413M679 424L676 418L670 414M689 410L684 410L680 407M689 410L691 416M659 422L663 417L667 413M667 413L668 413M692 403L690 399L686 396M692 403L697 403L701 400M700 391L702 395L701 400M700 391L695 391L690 391M690 391L686 396M689 410L691 407L692 403M678 396L682 397L686 396M708 406L705 402L701 400M711 389L705 389L700 391M700 391L700 391M685 379L685 386L690 391M699 379L698 385L700 391M678 381L675 385M675 385L678 390L678 396M182 393L182 399L179 404M182 393L174 389L169 383M179 404L172 407L165 405M157 384L163 384L169 383M159 400L161 403L165 405M190 390L186 391L182 393M185 413L183 408L179 404M183 364L176 374L169 383M164 420L164 412L165 405M164 420L174 419L183 421M183 421L184 420M215 461L220 465L225 472M215 461L219 455L221 449M223 449L221 449M223 449L229 452L235 455M235 455L233 462L235 468M235 468L230 470L225 472M200 457L199 451L198 445M200 457L203 460L207 462M207 462L211 462L215 461M212 438L218 442L221 449M236 434L231 443L223 449M244 450L240 453L235 455M253 464L251 469L246 472M246 472L240 472L235 468M140 492L144 490L148 490M150 473L150 479L151 485M148 490L149 487L151 485M187 616L189 610L189 604M205 616L205 607L200 600M200 600L194 600L189 604M157 588L159 584L163 582M141 574L149 573L156 572M156 572L161 576L163 582M125 515L119 518L113 523M125 515L129 518L133 521M119 535L124 537L130 536M113 525L113 523M133 521L129 528L130 536M139 502L144 510L152 515M125 515L125 511M133 521L139 520L146 521M146 521L151 518M152 515L151 518M160 468L163 469L166 472M168 484L159 482L151 485M168 484L168 483M168 483L169 477L166 472M166 440L164 446L164 453M166 440L171 441L176 439M164 453L173 454L180 461M176 439L178 443L183 444M183 444L181 453L180 461M164 438L166 440M159 456L161 454L164 453M183 421L180 430L176 439M166 472L175 469L180 462M180 462L180 461M194 442L189 445L183 444M200 457L191 459L182 463M182 463L180 462M89 550L88 545L84 540M101 532L98 532M98 532L92 537L84 540M77 537L79 537M79 537L84 540M79 537L79 525L86 514M98 532L96 524L91 516M113 523L109 518L104 514M644 502L645 505L648 507M659 498L658 503M658 503L653 504L648 507M638 518L643 515L648 513M648 507L649 510L648 513M611 397L618 400L625 398M625 398L627 396M627 396L626 389L621 384M598 364L597 358L594 354M583 350L582 358L576 363M569 345L565 339L562 333M549 348L552 340L557 333M581 344L575 343L569 345M687 557L684 553M684 553L679 553L674 554M674 554L673 560L674 566M686 548L684 553M663 576L656 573L650 569M667 567L664 563L661 560M661 560L656 566L650 568M650 569L650 568M648 572L650 569M643 559L647 563L650 568M672 543L671 548L673 553M672 543L667 541L662 541M673 553L667 552L661 555M661 555L658 552L656 549M656 549L658 544M662 541L658 544M680 537L676 540L672 543M674 554L673 553M661 560L661 555M646 552L651 549L656 549M637 534L641 532L645 533M645 533L649 540L658 544M680 535L679 531L677 528M689 520L685 519M685 519L681 524L677 528M689 504L685 507L681 511M685 519L682 515L681 511M673 496L673 502L673 508M681 511L677 509L673 508M597 469L594 461L597 453M639 436L638 428L633 423M642 421L638 422L635 422M633 423L635 422M121 835L118 837L115 839M99 828L102 833L101 839M101 839L108 841L115 839M117 861L116 860M115 839L119 849L116 860M72 880L75 875M99 879L94 876L92 870M92 870L83 870L75 875M52 863L60 859L69 858M75 875L72 867L69 858M66 841L67 848L72 853M69 858L72 853M275 600L272 598L270 595M283 579L279 580L275 579M275 579L272 587L270 595M256 610L258 602L258 594M270 595L264 596L258 594M271 662L267 667L262 671M271 662L271 662M271 662L266 657L259 654M262 671L257 670L253 669M253 669L253 664L251 660M251 660L255 657L259 654M265 681L265 676L262 671M281 670L277 665L271 662M277 650L274 656L271 662M259 643L258 648L259 654M246 676L248 671L253 669M240 655L245 658L251 660M269 424L277 427L284 430M271 448L276 444L282 442M284 430L281 436L282 442M291 460L289 454L289 448M307 448L305 445L302 444M302 444L295 445L289 448M289 448L285 446L282 442M418 513L414 512L410 512M400 529L400 525L400 521M410 512L405 517L400 521M414 488L420 493L427 495M414 488L408 492L404 499M410 512L406 506L404 499M392 488L392 493L394 498M414 488L413 483M400 480L407 480L413 483M404 499L399 498L394 498M413 483L416 478L417 473M397 470L400 466L403 464M417 473L409 469L403 464M394 451L400 453L403 459M416 450L409 454L403 459M403 459L403 464M692 314L693 313M692 314L689 319L689 326M693 313L698 316L703 320M689 326L693 329L697 332M704 321L701 327L697 332M704 321L703 320M697 332L697 332M679 312L685 314L692 314M695 307L694 310L693 313M677 327L677 320L679 312M677 327L683 328L689 326M710 311L707 316L703 320M677 327L675 329M675 329L680 334L683 341M689 341L691 335L697 332M713 326L708 324L704 321M708 339L703 334L697 332M706 377L710 375L712 371M706 377L710 381L713 384M712 371L717 373L722 376M713 384L716 384L719 382M719 382L719 379L722 376M701 377L706 377M712 366L712 371M726 374L722 376M728 394L724 388L719 382M635 379L634 379M635 379L640 377L645 374M634 379L632 372L627 367M645 374L643 370L643 366M643 366L639 364L635 360M635 360L630 362L627 367M634 379L628 381L622 382M627 367L624 366L620 367M661 318L655 326L647 329M642 301L644 314L645 327M645 327L647 329M631 327L638 327L645 327M670 330L671 339L666 348M670 330L669 329M669 329L663 334L655 336M655 336L658 342L661 348M666 348L661 348M675 329L670 330M667 349L666 348M661 318L667 323L669 329M649 334L652 334L655 336M649 334L647 329M646 338L646 345L649 351M646 338L649 334M653 353L649 351M653 353L656 350L661 348M667 360L663 361L660 365M653 353L653 356M660 365L658 360L653 356M649 412L649 409M667 413L663 407L655 405M649 409L652 406L655 405M202 474L204 479M202 474L194 472L185 473M204 479L198 486L194 494M185 473L185 476L183 479M183 479L185 487L191 493M191 493L194 495M194 495L194 494M207 462L203 467L202 474M224 475L225 472M224 475L218 478L214 483M214 483L208 483L204 479M182 463L185 467L185 473M168 483L175 480L183 479M178 498L173 495L169 491M178 498L176 506L174 514M169 491L165 498L159 502M174 514L166 514L159 511M159 502L160 506L159 511M168 484L168 488L169 491M191 493L184 496L178 498M148 490L152 497L159 502M152 515L156 514L159 511M171 603L174 601L176 598M168 582L170 591L176 598M200 600L202 596M189 604L184 601L180 597M202 596L198 593L198 587M187 587L183 591L180 597M176 598L180 597M156 572L157 568L158 565M158 565L164 562L171 560M171 560L171 560M168 582L172 579L176 575M171 560L176 567L176 575M187 587L185 581L180 576M180 576L176 575M126 552L131 551L134 548M130 536L131 541L135 544M134 548L135 544M138 570L141 564L141 557M134 548L136 553L141 557M146 521L143 530L144 538M135 544L140 542L144 538M158 565L154 561L151 557M141 557L146 558L151 557M151 518L156 525L161 532M144 538L151 538L157 542M161 532L159 537L157 542M171 560L168 555L168 548M151 557L156 551L159 544M168 548L163 547L159 544M159 544L157 542M665 511L660 516L654 519M665 511L669 512M669 512L672 519L671 526M655 524L654 519M655 524L658 528L663 529M663 529L667 528L671 526M658 503L661 507L665 511M648 513L652 515L654 519M673 508L669 512M677 528L674 526L671 526M645 533L650 529L655 524M662 541L661 535L663 529M625 398L624 402L625 407M101 858L97 851L97 842M101 858L96 861L93 866M93 866L87 859L81 852M81 852L84 846L90 842M90 842L93 841L97 842M101 839L97 842M116 860L109 860L101 858M92 870L93 866M72 853L76 852L81 852M79 830L85 835L90 842M244 611L241 605L238 599M258 594L255 593L253 590M253 590L245 594L238 599M280 488L280 493L278 497M269 479L265 481L261 484M261 484L264 490L263 497M278 497L270 495L263 497M285 508L282 507M278 497L279 502L282 507M289 424L295 420L302 418M289 424L287 427M287 427L294 432L301 435M302 418L305 424L311 428M311 428L307 432L301 435M285 411L287 418L289 424M304 407L302 412L302 418M284 430L287 427M302 444L301 440L301 435M313 428L311 428M390 501L388 508L391 515M390 501L383 501L376 500M391 515L382 517L374 520M374 520L371 514L369 508M376 500L372 503L370 505M370 505L369 508M400 521L394 519L391 515M394 498L390 501M376 485L376 493L376 500M373 525L374 520M350 514L360 514L369 508M359 495L363 501L370 505M423 458L420 463L422 470M434 474L428 472L422 470M417 473L422 470M645 374L649 375M643 366L649 362L653 356M660 365L660 365M649 375L654 369L660 365M671 373L666 373M666 373L663 369L660 365M649 351L644 351L638 352M635 360L635 356M638 352L635 356M646 338L642 341L637 342M638 352L638 347L637 342M635 379L636 384L636 389M627 396L631 395M631 395L633 391L636 389M625 407L630 408L633 411M633 411L636 406L641 404M631 395L636 400L641 404M633 411L633 416L635 422M649 409L645 406L642 404M641 404L642 404M174 514L175 515M161 532L169 532L176 528M176 528L173 522L175 515M194 495L194 504L192 512M175 515L183 511L192 512M628 424L625 421L621 419M628 424L626 431L622 437M633 423L628 424M234 624L230 617L224 612M238 599L235 598M235 598L229 604L224 612M209 617L214 615L218 612M224 612L218 612M202 596L208 595L214 596M218 612L216 604L214 596M198 587L199 581L203 576M180 576L186 573L192 568M203 576L197 573L192 568M171 560L180 560L189 556M189 556L191 558M191 558L190 563L192 568M208 555L210 559L213 562M208 555L199 553L191 558M203 576L209 574M209 574L210 568L213 562M194 494L203 495L209 500M192 512L195 515M195 515L200 515L206 515M206 515L205 507L209 500M214 483L215 489L216 496M216 496L215 499M209 500L215 499M209 547L212 544L215 541M209 547L207 550L208 555M213 562L222 564L229 560M229 560L229 554L228 548M228 548L222 543L215 541M248 480L240 485L232 489M248 480L249 481M249 481L247 491L247 500M232 489L231 492M231 492L236 497L239 503M239 503L243 501L247 500M246 472L247 476L248 480M224 475L230 481L232 489M261 484L255 483L249 481M263 497L259 500L258 505M258 505L252 503L247 500M216 496L224 496L231 492M236 508L231 512L225 513M236 508L239 503M225 513L222 504L215 499M282 507L276 513L269 518M271 525L269 522L269 518M258 505L258 510L261 514M269 518L265 515L261 514M275 579L272 576L269 574M649 376L655 380L661 381M649 376L649 384L648 391M663 386L661 390L659 394M663 386L661 381M659 394L659 395M659 395L654 392L648 391M648 391L648 391M649 375L649 376M666 373L664 377L661 381M636 389L643 388L648 391M675 385L669 384L663 386M669 400L665 395L659 394M655 405L655 399L659 395M642 404L644 397L648 391M620 367L617 362L616 356M635 356L628 354L623 350M623 350L619 352L616 356M598 364L605 359L612 355M606 344L608 350L612 355M612 355L616 356M631 328L630 334L633 340M633 340L627 341L623 345M619 339L622 342L623 345M637 342L633 340M623 350L623 345M177 542L179 536L178 531M177 542L182 546L188 550M178 531L186 532L193 531M188 550L193 546L196 540M196 540L196 536L194 532M194 532L193 531M168 548L173 545L177 542M176 528L178 531M189 556L188 553L188 550M195 515L192 523L193 531M209 547L202 544L196 540M235 598L234 597M214 596L218 593M218 593L226 594L234 597M209 574L213 578L218 581M218 593L217 587L218 581M209 518L216 519L223 518M209 518L209 524L207 529M207 529L211 533L215 536M215 536L221 532L225 527M223 518L224 523L225 527M206 515L209 518M225 513L223 518M194 532L201 530L207 529M215 541L215 536M252 536L250 529L247 524M252 536L249 540L244 544M244 544L239 542L234 541M246 524L240 528L232 530M246 524L247 524M234 541L232 536L232 530M260 539L256 538L252 536M261 514L253 518L247 524M236 508L239 518L246 524M225 527L229 529L232 530M228 548L230 544L234 541M252 581L242 581L233 577M252 581L255 577M244 544L248 551L247 559M229 560L233 563M218 581L225 578L232 577M253 590L253 586L252 581M234 597L233 587L233 577" fill="none" stroke="#2a2a00" stroke-opacity=".36" stroke-width=".6" clip-path="url(#cat)"/>
<g clip-path="url(#cat)">
<polygon points="157.5,186.2 167.5,180.5 172.5,183.8 180,186.2 190,188.8 200,193.8 207.5,197.5 212.5,205 210,212.5 202.5,220 201.2,228.8 200,237.5 198.8,243.8 193.8,248.8 185,256.2 172.5,257.5 165,252.5 160,242.5 155,235 157.5,225 155,215 151.2,207.5 156.2,195" fill="#ffffff" stroke="none" stroke-width="0" />
<polygon points="223.8,266.2 230,263.8 240,266.2 252.5,267.5 260,262.5 262.5,253.8 266.2,252.5 265,260 260,266.2 255,270 257.5,280 250,288.8 242.5,287.5 235,282.5 227.5,276.2" fill="#ffffff" stroke="none" stroke-width="0" />
<polygon points="287.5,295 300,296.2 315,293.8 318.8,295 316.2,305 312.5,311.2 305,315 295,313.8 290,305" fill="#ffffff" stroke="none" stroke-width="0" />
<polygon points="307.5,383.8 312.5,385 310,392.5 306.2,397.5 302.5,396.2 303.8,390" fill="#ffffff" stroke="none" stroke-width="0" />
<polygon points="386.2,367.5 395,368.8 405,367.5 415,365 425,363.8 435,361.2 445,358.8 455,360 462.5,355 471.2,350 480,347.5 488.8,345 492.5,338.8 500,333.8 505,327.5 515,326.2 522.5,325 530,321.2 540,325 547.5,331.2 557.5,336.2 567.5,338.8 575,345 582.5,352.5 590,355 597.5,355 605,357.5 612.5,360 618.8,366.2 625,371.2 627.5,377.5 626.2,385 623.8,392.5 621.2,400 625,400 626.2,410 623.8,420 620,433.8 630,435 637.5,432.5 642.5,435 650,440 653.8,447.5 660,451.2 657.5,460 655,467.5 655,475 656.2,485 655,491.2 650,492.5 652.5,500 650,505 640,505 635,500 637.5,490 635,486.2 630,482.5 625,475 617.5,475 612.5,477.5 605,475 600,468.8 595,463.8 591.2,467.5 592.5,475 586.2,480 582.5,475 573.8,472.5 570,472.5 572.5,482.5 577.5,487.5 576.2,495 572.5,502.5 567.5,508.8 566.2,516.2 563.8,522.5 557.5,523.8 555,525 551.2,518.8 545,512.5 542.5,505 540,497.5 532.5,493.8 531.2,487.5 535,480 536.2,473.8 537.5,466.2 541.2,460 540,451.2 535,445 526.2,443.8 520,445 512.5,448.8 505,455 497.5,462.5 493.8,466.2 486.2,465 477.5,465 470,468.8 462.5,475 460,487.5 460,491.2 440,491.2 437.5,485 432.5,477.5 427.5,470 417.5,465 410,460 402.5,456.2 397.5,450 392.5,445 395,437.5 400,430 395,425 383.8,423.8 372.5,422.5 362.5,418.8 353.8,407.5 355,400 355,397.5 356.2,387.5 362.5,380 370,376.2 371.2,368.8" fill="#ffffff" stroke="none" stroke-width="0" />
<polygon points="465,537.5 468,530 474,522.5 480,515 484.5,507.5 489,503 496.5,501.5 499.5,506 504,509 511.5,509 512.2,515 510.8,522.5 511.5,530 511.5,535.2 517.5,535.2 525,536 526.5,532.2 529.5,528.5 535.5,527 541.5,527.8 544.5,532.2 546,537.5 548.2,543.5 546,548 540,548.8 534,547.2 528.8,546.5 523.5,547.2 523.5,552.5 517.5,554.8 513,555.5 510,560 505.5,563.8 501,563 498,560 496.5,566 492,566 488.2,561.5 486,555.5 489,552.5 480,551.8 472.5,551.8 469.5,546.5 466.5,542" fill="#ffffff" stroke="none" stroke-width="0" />
<polygon points="161.2,572.5 167.5,575 168.8,582.5 175,581.2 180,586.2 187.5,582.5 195,585 205,586.2 210,582.5 217.5,585 222.5,580 226.2,575 227.5,567.5 230,561.2 236.2,556.2 242.5,551.2 250,546.2 256.2,537.5 262.5,531.2 270,526.2 277.5,527.5 285,533.8 286.2,540 280,546.2 275,548.8 272.5,557.5 273.8,565 272.5,575 267.5,582.5 260,578.8 252.5,580 245,578.8 236.2,580 230,585 225,587.5 217.5,588.8 210,587.5 200,588 198.8,602.5 195,602.5 193.8,591.2 185,590 175,592.5 167.5,596.2 162.5,592.5 163.8,586.2 161.2,580" fill="#ffffff" stroke="none" stroke-width="0" />
<polygon points="272.5,505 280,503.8 283.8,508.8 280,515 275,520 280,525 285,528.8 286.2,536.2 287.5,545 295,542.5 305,540 313.8,538.8 321.2,537.5 326.2,541.2 323.8,547.5 318.8,552.5 313.8,557.5 306.2,560 301.2,565 295,570 287.5,572.5 280,575 273.8,576.2 271.2,583.8 265,582.5 260,580 250,575 250,540 260,535 267.5,532.5 270,525 272.5,515" fill="#ffffff" stroke="none" stroke-width="0" />
<polygon points="143.1,866.2 147.5,865 152.5,866 158.8,867.2 165,869.8 170,871.5 175,869.8 182.5,866.5 189,864 191.2,870 186.2,877.5 177.5,881.2 172.5,883.1 168.8,882.8 163.8,880 157.5,876.9 152.5,875 147.5,872.5 143.8,869.4" fill="#ffffff" stroke="none" stroke-width="0" />
<polygon points="546,500 547.5,507.5 550.5,515 555,521 559.5,523.2 564,521 564.8,515 566.2,509 570,507.5 570,500" fill="#ffffff" stroke="none" stroke-width="0" />
<polygon points="710,385 716.2,381.2 721.2,386.2 717.5,392.5 718.8,398.8 710,400 702.5,396.2 705,390" fill="#ffffff" stroke="none" stroke-width="0" />
<polygon points="471.2,540 475,547.5 482.5,550 490,551.2 497.5,552.5 505,551.2 512.5,552.5 520,550 525,545 527.5,540 525,525 510,520 490,522.5 475,530" fill="#ffffff" stroke="none" stroke-width="0" />
<polygon points="495,598 501.2,597 503,602.5 500,607.5 495,605.5" fill="#ffffff" stroke="none" stroke-width="0" />
<polygon points="232.5,738.8 237.5,737.5 241.2,746.2 237.5,750 233.8,745" fill="#ffffff" stroke="none" stroke-width="0" />
<polygon points="273,717 278,716.2 279,720 274.5,721.2" fill="#ffffff" stroke="none" stroke-width="0" />
<polygon points="303.8,687 308,686.2 309,691.2 305,692.5" fill="#ffffff" stroke="none" stroke-width="0" />
<polygon points="303.8,686.2 308.8,685 310,691.2 305,692.5" fill="#ffffff" stroke="none" stroke-width="0" />
<polygon points="520,600.5 526.2,599.5 527.5,605.5 522,607" fill="#ffffff" stroke="none" stroke-width="0" />
<polygon points="487.5,660.5 495,659.5 498,665 494.5,670 488.5,668" fill="#ffffff" stroke="none" stroke-width="0" />
<polygon points="718,424.8 727,423.6 729.2,429.2 724.8,433.3 719.1,431.5" fill="#ffffff" stroke="none" stroke-width="0" />
<polygon points="711.2,446.1 716.9,445 718,451.8 724.8,450.6 727,457.4 722.5,460.8 715.8,458.9 709,460.8 704.5,458.9 705.6,454 710.1,452.9" fill="#ffffff" stroke="none" stroke-width="0" />
<polygon points="162.5,587.5 170,585 180,580 195,580 210,587.5 200,592.5 198.8,602.5 195,603.8 193.8,593.8 182.5,590 175,592.5 167.5,595 163.8,592.5" fill="#ffffff" stroke="none" stroke-width="0" />
</g>
<polygon points="401.2,410 407.5,410 415,415 410,416.2 402.5,413.8" fill="#ffff38" stroke="none" stroke-width="0" />
<polygon points="383.8,423.8 392.5,423.2 393,427.5 383.8,428" fill="#ffff38" stroke="none" stroke-width="0" />
<g clip-path="url(#cat)"><path d="M164 248L109 250L56 264M164 248L168 238L173 229M173 229L151 219L127 220M143 167L153 183L159 200M127 220L140 205L159 200M173 229L173 229M159 200L164 201M173 229L173 213L164 201M175 180L175 188L172 196M172 196L168 199L164 201M188 259L193 248L195 236M218 247L206 244L195 236M539 528L541 524L544 520M539 528L547 534L553 540M544 520L550 520L556 519M556 519L560 521L563 524M284 715L277 720L269 720M175 262L168 256L164 248M539 529L530 524L521 524M539 529L538 535L533 540M533 540L530 541L526 542M526 542L522 538L519 533M521 524L519 528L519 533M539 528L539 529M543 550L537 546L533 540M519 520L521 524M519 520L515 519L511 519M511 519L506 521L503 524M503 524L507 532L506 540M506 540L513 537L519 533M496 558L492 561L489 564M496 558L499 558M506 569L501 565L499 558M479 544L478 548L479 551M479 544L483 539L490 537M479 551L486 552L492 550M492 550L494 546L496 541M496 541L493 538L490 537M487 526L478 530L469 532M487 526L488 532L490 537M469 533L469 532M469 533L472 540L479 544M477 555L479 551M496 558L493 555L492 550M506 540L508 544L509 548M506 540L501 539L496 541M499 558L503 552L509 548M503 524L497 521L490 522M506 540L506 540M487 526L490 522M234 749L240 749M213 216L209 207L203 200M213 216L203 224L194 233M183 228L190 216L190 203M183 228L187 232L194 233M190 203L194 200L198 199M198 199L203 200M224 185L216 195L203 200M195 236L194 233M173 229L178 227L183 228M172 196L181 199L190 203M190 170L194 184L198 199M307 280L304 293L300 306M300 306L292 307L286 304M261 249L256 258L257 270M233 266L232 261M233 266L240 272L249 274M249 274L254 272L257 270M233 266L227 274L221 282M300 306L306 310L310 317M482 509L484 512L487 512M487 512L493 505L503 503M490 522L490 517L487 512M467 528L469 532M511 519L508 510L503 503M588 490L588 480L593 472M556 519L554 511L558 503M575 507L572 505L571 502M558 503L564 501L571 502M588 490L581 489L573 487M571 502L571 494L573 487M581 467L587 469L593 471M581 467L574 474L570 483M573 487L570 483M558 503L555 501L553 498M536 507L545 504L553 498M567 482L560 487L552 490M567 482L570 483M553 498L554 494L552 490M539 459L546 457L552 456M552 456L555 459L557 463M533 470L539 472L543 477M543 477L550 473L556 468M556 468L557 463M567 482L559 477L556 468M545 485L550 486L552 490M545 485L543 481L543 477M578 460L580 463L581 467M578 460L568 462L557 463M512 360L505 365L499 371M512 360L512 356M512 356L505 354L501 349M494 352L498 352L501 349M494 352L495 359L493 365M493 365L495 368L499 371M545 426L543 428M545 426L552 426L560 425M543 428L543 432L541 435M541 435L548 441L554 447M560 425L561 427L564 429M564 429L563 437L560 444M560 444L557 445L554 447M530 446L532 441M532 441L536 438L541 435M552 456L552 451L554 447M565 407L563 407M565 407L574 411L580 419M563 407L560 415L560 425M571 429L577 425L580 419M571 429L567 429L564 429M571 429L576 432L579 438M579 438L577 444L575 449M575 449L568 447L560 444M575 449L577 452L578 455M578 455L578 460M510 433L508 431L505 429M510 433L515 433L520 431M505 429L506 418L512 409M520 431L523 427L524 421M524 421L519 414L512 409M532 441L526 436L520 431M510 443L516 447L520 452M510 443L509 438L510 433M493 429L499 427L505 429M493 429L494 420L492 411M492 411L502 409L511 409M511 409L512 409M543 428L536 425L531 419M531 419L528 420L524 421M534 403L531 411L531 419M534 403L523 404L512 407M512 407L511 409M456 428L459 429L462 432M456 428L456 420L452 413M462 432L469 428L472 421M452 413L459 409L467 406M472 421L473 417L472 414M472 414L470 410L467 406M473 441L468 437L462 434M473 441L480 434L490 431M490 431L490 431M490 431L481 426L472 421M462 434L462 432M493 429L490 431M490 408L492 411M490 408L482 413L472 414M547 407L544 405L541 402M547 407L555 409L562 406M541 402L545 396L547 389M562 406L563 398L559 391M559 391L553 388L547 389M534 402L538 401L541 402M534 402L534 403M545 426L547 416L547 407M563 407L562 406M534 402L532 395L528 388M545 384L547 389M545 384L538 384L531 382M528 388L529 385L531 382M538 604L533 606L527 606M527 606L525 608L524 612M521 596L522 602L527 606M509 548L510 549M526 542L525 545M525 545L518 549L510 549M515 558L512 553L510 549M525 545L526 550L528 555M469 533L467 536L463 539M704 457L709 457L713 455M716 466L715 461L713 455M713 455L714 454M714 454L712 448L708 443M142 865L146 867L152 867M152 867L154 861L157 855M152 867L153 869M151 876L152 873L153 869M492 670L486 666L482 661M499 663L495 666L492 670M249 274L248 281L248 289M533 318L537 323L542 328M550 326L546 327L542 328M531 338L528 343L526 348M531 338L528 333L524 330M524 330L517 329L511 332M519 349L516 340L510 333M519 349L522 348L526 348M510 333L511 332M529 319L524 324L524 330M537 337L540 332L542 328M537 337L534 338L531 338M512 307L509 319L511 332M512 356L516 353L519 349M501 349L500 341L504 334M504 334L507 333L510 333M512 360L517 365L522 369M531 354L529 351L526 348M531 354L529 362L528 370M522 369L525 370L528 370M494 352L490 348L483 346M483 346L485 343L484 340M504 334L500 334L496 331M375 404L364 406L353 404M375 404L374 410L377 415M377 415L374 416L372 419M372 419L364 417L356 419M356 419L356 411L353 404M346 387L356 386L367 384M376 400L373 391L367 384M376 400L375 404M368 433L367 425L372 419M483 346L477 349L472 354M463 334L467 344L472 354M479 365L486 365L493 365M479 365L476 360L472 355M472 355L472 354M455 361L452 360L450 357M455 361L464 358L472 355M394 366L393 372L389 376M389 376L380 378L372 375M368 362L370 369L372 375M376 400L385 394L396 391M367 384L369 379L372 375M396 391L391 384L389 376M622 486L617 481L614 475M605 486L609 480L614 475M630 507L638 506L644 502M629 495L634 495L639 491M639 491L641 495L644 497M644 502L644 497M623 486L627 483L630 480M630 480L635 482L639 486M639 486L639 491M654 484L648 484L643 483M654 484L653 489L652 493M639 486L643 483M652 493L648 494L644 497M545 485L536 489L529 495M531 354L539 356L546 353M537 337L545 340L549 348M546 353L549 348M529 371L528 370M529 371L539 366L549 368M546 353L547 360L549 368M545 384L549 377L552 370M531 382L532 376L529 371M552 370L549 368M479 365L476 371L476 378M457 383L452 372L455 361M457 383L460 384L462 386M476 378L470 383L462 386M457 383L452 385M452 385L448 392L443 398M447 411L445 405L443 398M447 411L452 413M467 406L465 400L467 394M462 386L464 390L467 394M490 408L490 403L489 397M467 394L478 393L489 397M452 385L442 382L433 378M433 378L431 368L433 357M419 418L423 417L426 414M419 418L420 427L421 436M426 414L431 415L437 418M437 418L438 424L439 430M421 436L428 438L435 437M439 430L437 433L435 437M447 411L442 414L437 418M443 398L435 399L427 400M427 400L425 407L426 414M456 428L448 430L439 430M455 444L458 439L462 434M455 444L448 445L440 447M440 447L438 442L435 437M476 451L474 457L470 460M476 451L484 449L493 450M470 460L478 467L488 470M497 458L492 463L489 470M497 458L496 453M493 450L496 453M462 460L465 460L469 461M462 460L462 450L455 444M473 441L473 447L476 451M469 461L470 460M490 431L492 441L493 450M468 477L467 469L469 461M508 462L503 458L497 458M510 443L502 447L496 453M630 477L635 473L639 469M630 477L626 474L624 471M639 469L633 465L627 461M627 461L626 466L624 471M614 475L614 474M630 477L630 480M624 471L619 474L614 474M597 469L603 469L609 467M609 467L611 471L614 474M579 438L586 437L593 433M580 419L583 418M593 433L593 431M583 418L587 425L593 431M719 452L714 454M719 452L725 455L730 458M721 436L723 431L726 426M726 426L729 426L732 425M719 452L721 446L723 440M716 417L720 423L726 426M178 868L175 871L174 874M178 868L185 865L191 867M174 874L174 880L176 884M153 869L163 873L174 874M305 579L297 576L290 571M290 571L287 576L283 579M290 571L291 567L290 564M290 564L298 564L304 560M304 560L308 562L310 566M298 684L304 688L311 692M377 415L380 417M389 436L382 428L380 417M450 496L447 489L446 481M462 481L456 481L451 478M451 478L446 481M427 495L434 489L437 480M437 480L441 482L446 481M462 460L458 462L453 464M453 464L453 471L451 478M492 384L491 388L492 392M492 384L496 380L499 375M492 392L502 392L510 397M499 375L505 378L511 381M511 381L514 385L514 389M510 397L512 393L514 389M476 378L484 380L492 384M489 397L490 395L492 392M499 371L499 375M512 407L511 402L510 397M522 369L515 374L511 381M528 388L521 391L514 389M424 383L419 379L414 378M424 383L424 390L424 396M414 378L405 384L397 391M424 396L415 401L406 400M397 391L399 394L401 398M401 398L406 400M433 378L428 381L424 383M410 363L411 371L414 378M427 400L424 396M396 391L397 391M413 417L409 409L406 400M413 417L416 417L419 418M380 417L387 413L394 414M394 414L395 405L401 398M413 417L408 420L403 422M403 422L397 419L394 414M496 611L502 603L511 601M654 484L658 485L661 484M654 484L654 484M654 484L655 478L653 473M653 473L658 470L664 470M565 407L571 403L577 398M577 398L581 398M583 418L585 414L588 410M588 410L583 405L581 398M641 452L646 450M641 452L643 461L642 469M646 450L649 456L654 460M654 460L650 464L647 469M647 469L643 469M643 469L642 469M653 473L650 471L647 469M661 460L658 459L654 460M643 483L641 476L643 469M639 469L642 469M646 450L644 444L646 438M646 450L653 447L661 447M646 438L652 438L657 437M646 450L646 450M646 438L646 437M649 427L646 432L646 437M302 530L298 537L293 544M293 544L300 545L305 550M312 531L309 539L310 548M305 550L310 548M320 550L315 550L310 548M320 550L322 557L322 564M304 560L304 555L305 550M320 550L325 545L331 542M290 564L287 562L286 559M293 544L293 544M286 559L288 551L293 544M293 521L287 524L282 529M282 529L283 535L285 539M293 544L289 541L285 539M327 397L317 390L308 383M308 383L305 390L299 395M403 422L401 429L400 436M400 436L397 436L394 438M421 436L419 438L415 441M400 436L407 439L415 441M394 438L396 444L394 451M726 398L721 399L716 399M708 406L711 401L716 399M711 389L714 394L716 399M711 389L705 389L700 391M200 600L194 600L189 604M157 588L159 584L163 582M156 572L161 576L163 582M644 502L645 505L648 507M612 386L613 392L611 397M612 386L616 384L621 384M611 397L618 400L625 398M627 396L626 389L621 384M612 386L609 383M618 370L621 376L622 382M618 370L615 370L612 372M609 383L611 378L612 372M621 384L622 382M567 361L561 366L554 370M567 361L571 361L575 364M575 364L572 372L573 380M554 370L562 374L566 382M566 382L571 382M571 382L573 380M559 391L563 387L566 382M552 370L554 370M577 398L572 391L571 382M593 382L592 381M593 382L593 385L593 389M592 381L582 383L573 380M581 398L587 393L593 389M594 371L584 370L576 363M594 371L596 368L598 366M598 364L598 366M598 364L597 358L594 354M583 350L582 358L576 363M592 381L593 376L594 371M575 364L576 363M593 382L601 380L609 383M612 372L605 368L598 366M564 352L557 347L549 348M564 352L567 349L569 345M569 345L565 339L562 333M549 348L552 340L557 333M549 348L549 348M567 361L564 356L564 352M581 344L575 343L569 345M641 452L638 452L635 452M639 436L643 436L646 437M639 436L635 440L630 442M630 442L631 447L635 452M627 461L627 460M635 452L632 456L627 460M578 455L585 452L593 449M593 433L594 436L596 438M596 438L595 444L593 449M597 469L594 461L597 453M593 449L595 451L597 453M588 410L592 409L595 409M593 389L599 393L602 399M595 409L599 405L602 399M611 397L608 399M602 399L605 399L608 399M639 436L638 428L633 423M286 559L280 558L274 559M285 539L281 543L275 545M275 545L277 552L274 559M394 451L400 453L403 459M415 441L414 445L416 450M416 450L409 454L403 459M706 377L710 381L713 384M713 384L716 384L719 382M711 389L713 384M618 370L620 367M634 379L628 381L622 382M627 367L624 366L620 367M163 582L168 582M168 582L170 591L176 598M202 596L198 593L198 587M198 587L193 589L187 587M187 587L183 591L180 597M168 582L172 579L176 575M187 587L185 581L180 576M624 459L622 455L619 451M624 459L617 459L610 464M619 451L615 449L610 451M610 464L608 459L608 453M608 453L610 451M630 442L625 440M625 440L621 445L619 451M627 460L624 459M609 467L610 464M597 453L603 452L608 453M608 442L610 446L610 451M608 442L601 442L596 438M625 398L624 402L625 407M608 399L610 403L611 408M625 407L623 409L620 411M611 408L616 409L620 411M285 508L282 507M278 497L279 502L282 507M423 458L420 463L422 470M423 458L431 457L439 453M439 453L441 456L442 459M442 459L441 468L434 474M434 474L428 472L422 470M416 450L420 453L423 458M440 447L440 450L439 453M453 464L447 462L442 459M437 480L435 478L434 474M625 407L630 408L633 411M595 409L598 412L601 415M611 408L609 411L607 415M601 415L604 415L607 415M593 431L597 428M601 415L601 422L597 428M628 424L625 421L621 419M628 424L626 431L622 437M621 419L617 421L612 422M622 437L619 435L615 436M615 436L612 431L611 427M611 427L612 422M620 411L621 415L621 419M625 440L622 437M607 415L611 418L612 422M608 442L611 438L615 436M597 428L604 429L611 427M198 587L199 581L203 576M282 529L277 527L271 525M282 507L276 513L269 518M271 525L269 522L269 518M275 545L269 542L265 536M271 525L270 532L265 536M274 559L272 559M265 536L260 539M260 539L259 547L259 555M259 555L266 556L272 559M275 579L272 576L269 574M269 574L273 567L272 559M620 367L617 362L616 356M598 364L605 359L612 355M218 593L217 587L218 581M260 539L256 538L252 536M247 559L249 559M247 559L240 562L233 563M249 559L249 569L255 577M233 563L232 570L232 577M252 581L242 581L233 577M252 581L255 577M233 577L232 577M259 555L254 557L249 559M244 544L248 551L247 559M229 560L233 563M269 574L262 573L255 577M218 581L225 578L232 577M234 597L233 587L233 577" fill="none" stroke="#555" stroke-opacity=".38" stroke-width=".55" clip-path="url(#wcl)"/></g>
<polygon points="462.5,303.8 467.5,303.8 466.2,308.8 470,312.5 472.5,316.2 466.2,318.8 460,316.2 458.8,311.2 461.2,307.5" fill="#ffffff" stroke="#2a2a1a" stroke-width="1.2" />
<polygon points="157.5,186.2 167.5,180.5 172.5,183.8 180,186.2 190,188.8 200,193.8 207.5,197.5 215,202.5 225,200 230,203.8 242.5,207.5 252.5,207 260,215 267.5,223.8 275,231.2 285,227.5 295,227 305,228.8 315,230 322.5,237.5 326.2,245 332.5,255 335,265 333.8,275 331.2,282.5 337.5,287.5 337.5,286.2 342.5,295 337.5,302.5 335,310 338.8,318.8 350,321.2 360,320 365,313.8 371.2,317.5 371.2,311.2 380,310 388.8,306.2 391.2,300 397.5,303.8 403.8,300 410,303.8 417.5,305 425,308.8 435,313.8 442.5,317.5 450,318.8 453.8,316.2 456.2,323.8 460,330 463.8,337.5 467.5,345 471.2,350 480,347.5 488.8,345 492.5,338.8 500,333.8 505,327.5 515,326.2 522.5,325 530,321.2 540,325 547.5,331.2 557.5,336.2 567.5,338.8 575,345 582.5,352.5 590,355 597.5,355 602.5,350 612.5,348.8 622.5,346.2 625,338.8 630,333.8 640,328.8 647.5,326.2 655,328.8 654.9,330.5 660.5,323.8 667.2,318.1 674,314.8 680.8,315.9 687.5,312.5 692,309.1 697.6,313.6 705.5,314.8 712.2,311.4 717.9,317 721.2,323.8 728,327.1 732.5,323.8 739.2,324.9 744.9,323.8 742.6,331.6 743.8,339.5 746,346.2 752.8,353 759.5,350.8 766.2,354.1 775.2,357.5 780.9,359.8 775.2,364.2 771.9,371 770.8,378.9 766.2,384.5 757.2,386.8 750.5,382.2 741.5,377.8 737,373.2 734.8,380 731.4,389 730.2,400.2 731.4,411.5 734.8,420.5 740.5,422.5 746.1,427 749.5,433.8 752.9,441.6 754,448.4 752.9,456.2 754,464.1 758.5,469.8 759.6,475.4 757.4,482.1 755.1,488.9 751.8,494.5 747.2,500.1 742.8,504.6 737.1,508 732.5,515 725,521.2 718.8,527.5 712.5,532.5 705,536.2 697.5,540 692.5,545 686.2,551.2 680,555 672.5,557.5 665,561.2 657.5,565 651.2,571.2 645,576.2 637.5,580 628.8,583.8 620,587.5 612.5,590 605,593.8 597.5,597.5 590,601.2 582.5,606.2 575,611.2 560,620 546.5,624.8 533,631.5 526.2,637.1 521.8,643.9 515,651.8 509.4,659.6 504.9,667.5 502.6,675.4 499.2,682.1 490.2,686.6 479,688.9 467.8,691.1 456.5,692.2 449.8,691.8 438.5,695 429.5,699 418.2,703.5 407,708 393.5,712.5 380,715.9 370,718.8 360,720 350,722.5 340,725 330,728.8 320,733.8 310,736.2 300,737.5 292.5,740 285,742.5 277.5,746.2 270,751.2 265,757.5 261.2,756.2 255,753.8 247.5,753.8 240,755 232.5,756.2 226.2,758.8 220,763.8 213.8,770 202.5,780 196.2,786.2 190,791.2 186.2,797.5 182.5,805 177.5,810 170,817.5 162.5,823.8 157.5,828.8 153.8,835 150,835.6 148.8,838.8 151.2,843.8 155,846.9 160,849.4 165,849 168.5,846.5 171.2,850 175,855 180,858.8 186.2,858.8 188.8,861.2 189.4,864.4 187.5,870 183.8,875 177.5,878.8 172.5,881.2 168.1,883.8 158.8,890 155.6,895 151.9,900 148.1,904 144,910 138.8,913.8 132.5,916.2 126.2,915.6 121.9,912.5 120,907.5 122.5,907.2 126.2,905.6 130,906.9 135,906.2 137.5,903.1 142.5,903.8 146.9,903.5 150.6,899 154.4,894 156.9,890 162.5,886.5 156.2,888.8 150,889.4 143.8,890 137.5,891.9 131.2,891.9 125,893.8 121.2,896.2 120,900 113.8,906.2 110,910 106.2,913.8 102.5,920 97.5,922.5 92.5,918.8 87.5,916.2 83.8,913.8 82.5,907.5 78.8,902.5 72.5,898.8 65,896.2 57.5,893.8 51.2,890 45,887.5 41.2,882.5 45,877.5 47.5,872.5 45,866.2 37.5,862.5 30,858.8 25,857.5 22.5,852.5 18.8,853.8 16.2,850 20,848.8 26.2,845 35,840 40,832.5 43.8,825 41.2,818.8 38.8,810 42.5,800 45,795 47.5,787.5 48.8,780 47.5,770 42.5,762.5 35,757.5 36.2,750 32.5,742.5 30,733.8 33.8,727.5 32.5,730 37.5,727.5 47.5,722.5 55,716.2 58.8,710 63.8,705 71.2,702.5 73.8,695 77.5,687.5 80,680 73.8,675 70,667.5 73.8,661.2 72.5,655 66.2,651.2 63.8,645 68.8,638.8 72.5,633.8 70,627.5 68.8,617.5 73.8,616.2 80,612.5 87.5,607.5 92.5,602.5 91.2,590 90,583 73.8,580 70,570 66.2,562.5 67.5,553.8 73.8,547.5 78.8,538.8 83.8,531.2 91.2,530 101.2,525 105,516.2 113.8,511.2 120,505 127.5,500 132.5,496.2 131.2,490 132.5,480 125,473.8 130,467.5 136.2,462.5 140,456.2 146.2,457.5 147.5,448.8 150,440 153.8,430 155,430 158.8,422.5 162.5,412.5 160,402.5 161.2,392.5 165,382.5 171,370 172.5,367 174.8,361 176.2,355 174,352 171,349.8 172.5,347.5 176.2,346 176.2,340.8 171,340.8 167.2,338.5 168,334 169.5,328 168.8,322 166.5,316 165,310 164.2,304.8 160.5,301.8 162,298 166.5,295.8 169.5,291.2 168.8,286 172.5,282.2 174.8,277 177,271 179.2,265 182.2,260.5 175.5,260.5 169.5,258.2 165,254.5 163.5,250 160,242.5 155,235 157.5,225 155,215 151.2,207.5 156.2,195" fill="none" stroke="#2a2a1a" stroke-width="1.4" />
<polyline points="153.8,841.5 156.2,840 158.8,839.4 163.8,840.6 167.5,844.4 168.5,846.5" fill="none" stroke="#2a2a1a" stroke-width="1.3" />
<g clip-path="url(#cat)"><polyline points="242.5,207.5 241.2,220 240,227.5 230,235 228.8,245 226.2,255 225,263.8 220,268.8 215,263.8 206.2,256.2 197.5,260 187.5,256.2" fill="none" stroke="#141400" stroke-width="1.3" stroke-opacity=".78"/>
<polyline points="219.8,268.8 223.5,272.5 226.5,277 227.2,281.5 223.5,285.2 220.5,290.5 216.8,294.2 214.5,299.5 213,304 210,307.8 205.5,310 201.8,313 203.2,316 198,318.2 194.2,319.8 191.2,323.5 192.8,329.5 195,335.5 198,341.5 201.8,346 204.8,352 205.5,356.5 205.2,360.2" fill="none" stroke="#141400" stroke-width="1.3" stroke-opacity=".78"/>
<polyline points="226.5,277 228.8,280.8 234,283.8 238.5,288.2 240,295 238.5,301 237.8,307 238.5,313 240,319 242.2,323.5 238.5,328 235.5,334 231.8,340 228,344.5 223.5,348.2 221.2,352 223.5,356.5 226.5,361 232.5,363.2 238.5,365.5 240,363.8 252.5,368.8 265,373.8 268.8,377.5" fill="none" stroke="#141400" stroke-width="1.3" stroke-opacity=".78"/>
<polyline points="268.8,377.5 267.5,372.5 265,361.2 275,352.5 282.5,345 287.5,337.5 290,325 293.8,315 310,312.5 315,305 320,300 325,297 330,292 337,287" fill="none" stroke="#141400" stroke-width="1.3" stroke-opacity=".78"/>
<polyline points="268.8,377.5 265,383.8 267.5,392.5 270,400 268.8,410 270,420" fill="none" stroke="#141400" stroke-width="1.3" stroke-opacity=".78"/>
<polyline points="270,420 264,420 258,427.5 253.5,435 249.8,442.5 247.5,450 246,445.5 240,446.2 234,447.8 225,447.8 217.5,446.2 210,444.8 203.2,442.5 195,441 187.5,441 180,441.8 165,442.5 150,440" fill="none" stroke="#141400" stroke-width="1.3" stroke-opacity=".78"/>
<polyline points="270,420 271.5,429 277.5,432 283.5,438 288,447 291,457.5 290.2,465 291,472.5 295.5,471 300,466.5 313.8,450" fill="none" stroke="#141400" stroke-width="1.3" stroke-opacity=".78"/>
<polyline points="313.8,450 312.5,442.5 310,435 307.5,425 312.5,417.5 320,413.8 330,410 340,408.8 336.2,411.2 347.5,403.8 355,395 362.5,393.8 375,396.2 376.2,392.5 377.5,386.2 383.8,380 393.8,376.2 396.2,370 386.2,367.5" fill="none" stroke="#141400" stroke-width="1.3" stroke-opacity=".78"/>
<polyline points="371.2,317.5 375,323.8 383.8,331.2 387.5,338.8 386.2,347.5 386.2,357.5 386.2,367.5" fill="none" stroke="#141400" stroke-width="1.3" stroke-opacity=".78"/>
<polyline points="386.2,367.5 395,368.8 405,367.5 415,365 425,363.8 435,361.2 445,358.8 455,360 462.5,355 471.2,350" fill="none" stroke="#141400" stroke-width="1.3" stroke-opacity=".78"/>
<polyline points="375,396.2 383.8,401.2 386.2,407.5 397.5,406.2 402.5,402.5 403.8,407.5 400,412.5 397.5,420 398.8,430 400,430 395,437.5 391.2,445 390,452.5 386.2,457.5 383.8,465 387.5,471.2 383.8,475" fill="none" stroke="#141400" stroke-width="1.3" stroke-opacity=".78"/>
<polyline points="383.8,475 380,485 372.5,490 365,496.2 371.2,498.8 377.5,502.5 376.2,512.5 370,517.5 371.2,525 367.5,532.5 368.8,540 367.5,550" fill="none" stroke="#141400" stroke-width="1.3" stroke-opacity=".78"/>
<polyline points="383.8,475 392.5,476.2 400,482.5 410,486.2 422.5,485 430,490 440,491.2 455,491.2 465,488.8 462.5,475" fill="none" stroke="#141400" stroke-width="1.3" stroke-opacity=".78"/>
<polyline points="471.2,350 480,365 485,368.8 477.5,376.2 473.8,385 475,391.2 480,392.5 482.5,400 477.5,405 470,406.2 467.5,400 461.2,401.2 462.5,407.5 468.8,411.2 475,416.2 480,420 490,423.8 492.5,430" fill="none" stroke="#141400" stroke-width="1.3" stroke-opacity=".78"/>
<polyline points="291,472.5 289.5,480 287.2,486 285,492 283.5,501 280.5,508.5 277.5,514.5 273,520.5 268.5,526.5 266.2,534 267,540" fill="none" stroke="#141400" stroke-width="1.3" stroke-opacity=".78"/>
<polyline points="582.5,352.5 585,365 591.2,366.2 592.5,371.2 598.8,371.2" fill="none" stroke="#141400" stroke-width="1.3" stroke-opacity=".78"/>
<polyline points="548.8,393.8 555,390 553.8,382.5 562.5,373.8 571.2,370 581.2,371.2 583.8,366.2" fill="none" stroke="#141400" stroke-width="1.3" stroke-opacity=".78"/>
<polyline points="625,338.8 623.8,345 628.8,348.8 625,355 618.8,366.2 626.2,372.5 630,377.5 635,375 640,380 647.5,378.8 650,385 652.5,395 651.2,402.5" fill="none" stroke="#141400" stroke-width="1.3" stroke-opacity=".78"/>
<polyline points="625.8,400 628,409 624.6,418 622.4,427 619,433.8 625.8,433.8 633.6,432.6 641.5,436 649.4,442.8 655,448.4 662.9,445 669.6,439.4 675.2,440.5 679.8,436 678.6,427 679.8,418 677.5,409 676.4,400" fill="none" stroke="#141400" stroke-width="1.3" stroke-opacity=".78"/>
<polyline points="679.8,436 682,429.2 688.8,425.9 694.4,428.1 696.6,436 698.9,445 695.5,454 696.6,461.9 700,466.4 693.2,472 686.5,477.6 680.9,483.2 678.6,490" fill="none" stroke="#141400" stroke-width="1.3" stroke-opacity=".78"/>
<polyline points="617.9,433.8 616.8,442.8 621.2,451.8 625.8,465.2 626.9,474.2 632.5,483.2 638.1,486.6 646,485.5 651.6,488.9 658.4,490" fill="none" stroke="#141400" stroke-width="1.3" stroke-opacity=".78"/>
<polyline points="694.4,428.1 700,422.5 704.5,419.1 709,422.5 715.8,423.6 722.5,422.5 729.2,419.1 732.6,413.5" fill="none" stroke="#141400" stroke-width="1.3" stroke-opacity=".78"/>
<polyline points="551.2,412.5 557.5,425 565,437.5 572.5,440 580,437.5 583.8,445 586.2,455 581.2,462.5 578.8,467.5" fill="none" stroke="#141400" stroke-width="1.3" stroke-opacity=".78"/>
<polyline points="583.8,445 592.5,450 600,448.8 607.5,453.8 610,447.5 616.2,453.8 620,456.2 618.8,445 617.5,435" fill="none" stroke="#141400" stroke-width="1.3" stroke-opacity=".78"/>
<polyline points="548.8,393.8 547.5,400 551.2,406.2 551.2,412.5" fill="none" stroke="#141400" stroke-width="1.3" stroke-opacity=".78"/>
<polyline points="555,420 560,427.5 565,435 572.5,438.8 580,437.5 583.8,445 585,455 580,465 572.5,470 570,473.8 572.5,482.5 577.5,487.5 576.2,495 572.5,502.5 567.5,508.8 565,516.2 563.8,522.5 557.5,523.8 553.8,532.5 547.5,535 542.5,530 536.2,527.5 530,528.8 526.2,532.5 523.8,540 521.2,547.5 512.5,547.5 511.2,540 511.2,530 512.5,520 511.2,512.5 505,507.5 500,505 498.8,497.5 500,490 498.8,485 497.5,475 497.5,467.5 498.8,460 505,455 511.2,453.8 512.5,450 507.5,448.8 500,451.2 496.2,445 495,435 497.5,427.5 496.2,420" fill="none" stroke="#141400" stroke-width="1.3" stroke-opacity=".78"/>
<polyline points="466.2,420 470,430 468.8,440 467.5,450 466.2,460 465,470 461.2,476.2 460,482.5 465,487.5 470,490 477.5,491.2 486.2,491.2 493.8,490 498.8,485" fill="none" stroke="#141400" stroke-width="1.3" stroke-opacity=".78"/>
<polyline points="465,487.5 463.8,495 467.5,500 462.5,506.2 461.2,512.5 467.5,516.2 471.2,520 467.5,530 460,531.2 450,532.5 445,533.8 446.2,540 455,542.5 465,541.2 468.8,545 471.2,552.5 481.2,553.8 490,555 498.8,556.2 507.5,555 512.5,547.5" fill="none" stroke="#141400" stroke-width="1.3" stroke-opacity=".78"/>
<polyline points="498.8,556.2 500,565 501.2,570" fill="none" stroke="#141400" stroke-width="1.3" stroke-opacity=".78"/>
<polyline points="578.8,490 572.5,500 566.2,510 565,515 572.5,525 580,532.5 590,540 595,548.8 607.5,551.2 608.8,562.5 607.5,570 597.5,573.8 592.5,580 582.5,578.8 572.5,580 565,583.8 557.5,590 550,597.5 545,605 540,610" fill="none" stroke="#141400" stroke-width="1.3" stroke-opacity=".78"/>
<polyline points="565,515 555,525 547.5,530 540,527.5" fill="none" stroke="#141400" stroke-width="1.3" stroke-opacity=".78"/>
<polyline points="608.8,562.5 617.5,558.8 620,552.5 630,550 640,545 650,547.5 648.8,557.5 647.5,565 651.2,571.2" fill="none" stroke="#141400" stroke-width="1.3" stroke-opacity=".78"/>
<polyline points="660,490 661.2,500 667.5,507.5 668.8,517.5 672.5,527.5 680,533.8 690,538.8 695,532.5 692.5,525 690,517.5 697.5,515 696.2,505 691.2,497.5 682.5,493.8 677.5,490" fill="none" stroke="#141400" stroke-width="1.3" stroke-opacity=".78"/>
<polyline points="162.4,670.2 155.6,674.8 146.6,677 136.5,677 127.5,674.8 125.2,668 126.4,659 129.8,652.2 136.5,645.5 138.8,637.6 144.4,634.2 148.9,629.8 146.6,623 150,616.2 154.5,608.4 159,600.5 164.6,592.6 161.2,582.5 163.5,573.5 168,566.8 172.5,560" fill="none" stroke="#141400" stroke-width="1.3" stroke-opacity=".78"/>
<polyline points="164.6,592.6 172.5,591.5 181.5,593.8 190.5,591.5 199.5,589.2 208.5,587 217.5,588.1 220.9,580.2 222,571.2 226.5,564.5 228.8,560" fill="none" stroke="#141400" stroke-width="1.3" stroke-opacity=".78"/>
<polyline points="162.4,670.2 165.8,668 172.5,669.1 181.5,665.8 186,659 192.8,661.2 199.5,665.8 206.2,668 213,674.8 222,670.2 231,665.8" fill="none" stroke="#141400" stroke-width="1.3" stroke-opacity=".78"/>
<polyline points="286.2,440 290,450 291.2,460 290,470 297.5,467.5 303.8,461.2 310,455 313.8,450 312.5,440" fill="none" stroke="#141400" stroke-width="1.3" stroke-opacity=".78"/>
<polyline points="290,470 291.2,480 297.5,487.5 301.2,495 297.5,502.5 292.5,510 285,515 277.5,520 270,523.8 263.8,526.2 260,522.5" fill="none" stroke="#141400" stroke-width="1.3" stroke-opacity=".78"/>
<polyline points="301.2,495 306.2,512.5 315,517.5 316.2,525 325,527.5 326.2,540 322.5,550 326.2,557.5 327.5,565 322.5,572.5 315,580 313.8,587.5 320,590" fill="none" stroke="#141400" stroke-width="1.3" stroke-opacity=".78"/>
<polyline points="325,527.5 340,526.2 347.5,527.5 353.8,536.2 362.5,532.5 367.5,530 370,537.5 368.8,545 373.8,552.5 375,562.5 380,570 387.5,576.2 392.5,580" fill="none" stroke="#141400" stroke-width="1.3" stroke-opacity=".78"/>
<polyline points="465,488.8 468.8,500 462.5,507.5 467.5,515 470,517.5" fill="none" stroke="#141400" stroke-width="1.3" stroke-opacity=".78"/>
<polyline points="60,698.8 70,702.5 80,700 90,703.8 100,710 102.5,720 101.2,727.5 106.2,733.8 111.2,742.5 107.5,748.8 103.8,752.5 112.5,757.5 116.2,765 111.2,772.5 102.5,776.2 92.5,780 82.5,783.8 72.5,788.8 68.8,797.5 67.5,805" fill="none" stroke="#141400" stroke-width="1.3" stroke-opacity=".78"/>
<polyline points="87.5,680 80,685 73.8,692.5 70,702.5" fill="none" stroke="#141400" stroke-width="1.3" stroke-opacity=".78"/>
<polyline points="151.2,680 152.5,685 150,695 147.5,705 142.5,712.5 145,721.2 150,730 156.2,738.8 165,745 175,751.2 182.5,755" fill="none" stroke="#141400" stroke-width="1.3" stroke-opacity=".78"/>
<polyline points="116.2,765 120,775 125,785 130,793.8 140,792.5 150,791.2 160,792.5 170,793.8 177.5,792.5 186.2,793.8 182.5,800 180,805" fill="none" stroke="#141400" stroke-width="1.3" stroke-opacity=".78"/>
<polyline points="220,690 212.5,695 206.2,700 203.8,707.5 195,710 197.5,717.5 192.5,725 190,733.8 183.8,738.8 180,747.5 182.5,755 175,760 170,770 172.5,780 177.5,792.5" fill="none" stroke="#141400" stroke-width="1.3" stroke-opacity=".78"/>
<polyline points="200,587.5 207.5,588.8 215,591.2 220,597.5 222.5,605 223.8,610 232.5,616.2 240,622.5 243.8,628.8 240,636.2 232.5,643.8 223.8,651.2 215,657.5 205,663.8 202.5,667.5 207.5,672.5 212.5,670 218.8,666.2 223.8,667.5 225,673.8 235,673.8 238.8,678.8 237.5,686.2 240,691.2 250,692.5 257.5,696.2 263.8,700 267.5,705 266.2,710" fill="none" stroke="#141400" stroke-width="1.3" stroke-opacity=".78"/>
<polyline points="223.8,610 227.5,603.8 237.5,602.5 250,603.8 263.8,601.2 266.2,605 275,597.5 280,595 287.5,596.2 300,596.2 307.5,597.5 313.8,601.2 307.5,605 302.5,612.5 303.8,620 302.5,630 301.2,638.8 296.2,645 287.5,652.5 283.8,660 277.5,667.5 272.5,672.5 265,675 257.5,676.2 247.5,675 240,672.5 235,673.8" fill="none" stroke="#141400" stroke-width="1.3" stroke-opacity=".78"/>
<polyline points="301.2,638.8 310,641.2 320,637.5 330,635 338.8,630 341.2,638.8 343.8,650 340,655 330,657.5 325,665 322.5,672.5 325,680 322.5,687.5 317.5,691.2 324.6,699.4 319,701.6 314.5,698.2 306.6,699.4 303.2,703.9 294.2,701.6 285.2,703.9 276.2,701.6 268.4,705" fill="none" stroke="#141400" stroke-width="1.3" stroke-opacity=".78"/>
<polyline points="341.2,638.8 350,640 360,636.2 365,630 362.5,625 370,617.5 372.5,615 380,616.2" fill="none" stroke="#141400" stroke-width="1.3" stroke-opacity=".78"/>
<polyline points="322.4,674.6 325.8,682.5 324.6,689.2 330.2,689.2 328,693.8 324.6,699.4 328,705 334.8,709.5 339.2,712.9 341.5,720.8" fill="none" stroke="#141400" stroke-width="1.3" stroke-opacity=".78"/>
<polyline points="379.8,705 379.8,714" fill="none" stroke="#141400" stroke-width="1.3" stroke-opacity=".78"/>
<polyline points="343.8,650 350,655 360,662.5 362.5,670 372.5,675 377.5,680 375,687.5 372.5,695 378.8,705 385,697.5 392.5,690 397.5,685 400,683.8" fill="none" stroke="#141400" stroke-width="1.3" stroke-opacity=".78"/>
<polyline points="312.5,580 315,587.5 313.8,595 313.8,601.2" fill="none" stroke="#141400" stroke-width="1.3" stroke-opacity=".78"/>
<polyline points="440,572.5 445,567.5 452.5,570 460,572.5 466.2,571.2 466.2,563.8 463.8,556.2 467.5,550 470,551.2 480,552.5 490,551.2 497.5,552.5" fill="none" stroke="#141400" stroke-width="1.3" stroke-opacity=".78"/>
<polyline points="466.2,571.2 475,568.8 482.5,566.2 490,570 495,575 500,581.2 506.2,587.5 510,593.8 512.5,602.5 513.8,612.5 512.5,617.5 517.5,623.8 523.8,626.2 517.5,630 510,633.8 503.8,636.2 495,640 487.5,642.5 481.2,641.2 475,638.8 470,633.8 463.8,635 457.5,632.5 450,627.5 447.5,621.2 452.5,613.8 450,606.2 445,598.8 437.5,593.8 432.5,586.2 437.5,580 440,572.5" fill="none" stroke="#141400" stroke-width="1.3" stroke-opacity=".78"/>
<polyline points="432.5,586.2 430,590 421.2,588.8 417.5,596.2 420,602.5 426.2,608.8 430,615 428.8,620 433.8,626.2 436.2,633.8 437.5,642.5 438.8,648.8 435,655 431.2,660 426.2,665 423.8,672.5 427.5,678.8 430,685 428.8,690" fill="none" stroke="#141400" stroke-width="1.3" stroke-opacity=".78"/>
<polyline points="410,572.5 416.2,571.2 415,578.8 417.5,587.5 421.2,588.8" fill="none" stroke="#141400" stroke-width="1.3" stroke-opacity=".78"/>
<polyline points="481.2,641.2 480,647.5 483.8,653.8 490,657.5 495,658.8 502.5,662.5 506.2,667.5" fill="none" stroke="#141400" stroke-width="1.3" stroke-opacity=".78"/>
<polyline points="523.8,626.2 520,633.8 516.2,640 520,646.2" fill="none" stroke="#141400" stroke-width="1.3" stroke-opacity=".78"/>
<polyline points="570,585 562.5,590 556.2,597.5 550,605 543.8,611.2 536.2,616.2 530,621.2 523.8,626.2" fill="none" stroke="#141400" stroke-width="1.3" stroke-opacity=".78"/>
<polyline points="490,570 491.2,562.5 496.2,555 498.8,552.5" fill="none" stroke="#141400" stroke-width="1.3" stroke-opacity=".78"/>
<polyline points="430,685 420,680 410,676.2 400,675 395,680 392.5,687.5 391.2,690" fill="none" stroke="#141400" stroke-width="1.3" stroke-opacity=".78"/>
<polyline points="195,715 201.2,712.5 203.8,707.5 210,700 213.8,692.5 217.5,685 218.8,680" fill="none" stroke="#141400" stroke-width="1.3" stroke-opacity=".78"/>
<polyline points="268.4,705 265,711.8 260.5,717.4 256,721.9 258.2,727.5 251.5,732 253.8,737.6 247,741 245.9,746.6 250.4,750 257.1,751.1 261.6,755.6 265,756.8" fill="none" stroke="#141400" stroke-width="1.3" stroke-opacity=".78"/></g>
</g>
<g font-family="'Liberation Sans',sans-serif" font-weight="bold" font-size="11.4" fill="#0e0e12" stroke="#0e0e12" stroke-width=".38" text-anchor="middle"><text transform="translate(194,221) scale(.947,1)">Val</text><text transform="translate(194,234.5) scale(.947,1)">d'Aran</text><text transform="translate(273,282.5) scale(.947,1)">Pallars</text><text transform="translate(273.5,295) scale(.947,1)">Sobirà</text><text transform="translate(192,297.5) scale(.947,1)">Alta</text><text transform="translate(191.5,310) scale(.947,1)">Ribagorça</text><text transform="translate(213.5,382.5) scale(.947,1)">Pallars</text><text transform="translate(213,395) scale(.947,1)">Jussà</text><text transform="translate(322.5,368.75) scale(.947,1)">Alt</text><text transform="translate(322.5,381) scale(.947,1)">Urgell</text><text transform="translate(417.5,338.75) scale(.947,1)">Cerdanya</text><text transform="translate(432,424.5) scale(.947,1)">Berguedà</text><text transform="translate(522.5,375) scale(.947,1)">Ripollès</text><text transform="translate(597,406) scale(.947,1)">Garrotxa</text><text transform="translate(693.5,362) scale(.947,1)">Alt</text><text transform="translate(693,374.5) scale(.947,1)">Empordà</text><text transform="translate(654,419.5) scale(.947,1)">Pla de</text><text transform="translate(654.5,432.5) scale(.947,1)">l'Estany</text><text transform="translate(485.5,459) scale(.947,1)">Lluçanès</text><text transform="translate(349,465) scale(.947,1)">Solsonès</text><text transform="translate(536,476) scale(.947,1)">Osona</text><text transform="translate(665,476) scale(.947,1)">Gironès</text><text transform="translate(720,473) scale(.947,1)">Baix</text><text transform="translate(719.5,485.5) scale(.947,1)">Empordà</text><text transform="translate(209,492.5) scale(.947,1)">Noguera</text><text transform="translate(621,515) scale(.947,1)">Selva</text><text transform="translate(420,531.5) scale(.947,1)">Bages</text><text transform="translate(487,528.5) scale(.947,1)">Moianès</text><text transform="translate(297.5,553) scale(.947,1)">Segarra</text><text transform="translate(196,565) scale(.947,1)">Pla</text><text transform="translate(196,577.5) scale(.947,1)">d'Urgell</text><text transform="translate(247.5,575) scale(.947,1)">Urgell</text><text transform="translate(547.5,565) scale(.947,1)">Vallès</text><text transform="translate(547.5,577) scale(.947,1)">Oriental</text><text transform="translate(365.5,590.5) scale(.947,1)">Anoia</text><text transform="translate(594,591) scale(.947,1)">Maresme</text><text transform="translate(114,597) scale(.947,1)">Segrià</text><text transform="translate(478,596) scale(.947,1)">Vallès</text><text transform="translate(478,609.5) scale(.947,1)">Occidental</text><text transform="translate(182.7,638.6) scale(.947,1)">Garrigues</text><text transform="translate(275,631.5) scale(.947,1)">Conca de</text><text transform="translate(275,644.5) scale(.947,1)">Barberà</text><text transform="translate(392.5,651.5) scale(.947,1)">Alt</text><text transform="translate(392.5,664.5) scale(.947,1)">Penedès</text><text transform="translate(456,650) scale(.947,1)">Baix</text><text transform="translate(456,663) scale(.947,1)">Llobregat</text><text transform="translate(505,652.5) scale(.947,1)">Barcelonès</text><text transform="translate(299,676) scale(.947,1)">Alt Camp</text><text transform="translate(348,690) scale(.947,1)">Baix</text><text transform="translate(348.5,701.5) scale(.947,1)">Penedès</text><text transform="translate(411,697.5) scale(.947,1)">Garraf</text><text transform="translate(178,707.5) scale(.947,1)">Priorat</text><text transform="translate(219,735) scale(.947,1)">Baix Camp</text><text transform="translate(292,728) scale(.947,1)">Tarragonès</text><text transform="translate(130.5,727.5) scale(.947,1)">Ribera</text><text transform="translate(131,740) scale(.947,1)">d'Ebre</text><text transform="translate(71,750) scale(.947,1)">Terra</text><text transform="translate(71,763) scale(.947,1)">Alta</text><text transform="translate(115,826.5) scale(.947,1)">Baix Ebre</text><text transform="translate(97.5,882) scale(.947,1)">Montsià</text></g>
<g class="ls" fill="#111">
<text x="418.5" y="793.3" font-size="22" textLength="50" lengthAdjust="spacingAndGlyphs">Data:</text>
<text x="474.5" y="793.3" font-size="22" font-weight="bold" textLength="116" lengthAdjust="spacingAndGlyphs">15/08/2025</text>
<text x="418.5" y="817" font-size="15" textLength="143" lengthAdjust="spacingAndGlyphs">Darrera actualització</text>
<text x="571" y="816.7" font-size="14" font-weight="bold" textLength="118" lengthAdjust="spacingAndGlyphs">15/08/2025 9:30h</text>
<rect x="418.5" y="830.5" width="43" height="25.5" fill="#fff" stroke="#4a4a4a" stroke-width="1"/>
<rect x="418.5" y="871.5" width="43" height="25.5" fill="#ffff4a" stroke="#55551a" stroke-width="1"/>
<rect x="418.5" y="910.5" width="43" height="25.5" fill="#ff8409" stroke="#6a4010" stroke-width="1"/>
<rect x="548.5" y="830.5" width="43" height="25.5" fill="#ff0808" stroke="#701010" stroke-width="1"/>
<rect x="548.5" y="871.5" width="43" height="25.5" fill="#8b0505" stroke="#601010" stroke-width="1"/>
<rect x="548.5" y="910.5" width="43" height="25.5" fill="#000" stroke="#000" stroke-width="1"/>
<text x="469" y="850" font-size="17" textLength="53" lengthAdjust="spacingAndGlyphs">nivell 0</text>
<text x="469" y="890.3" font-size="17" textLength="54" lengthAdjust="spacingAndGlyphs">nivell 1</text>
<text x="469" y="929.3" font-size="17" textLength="54" lengthAdjust="spacingAndGlyphs">nivell 2</text>
<text x="599.4" y="849.5" font-size="17" textLength="54" lengthAdjust="spacingAndGlyphs">nivell 3</text>
<text x="599.4" y="889.5" font-size="17" textLength="54" lengthAdjust="spacingAndGlyphs">nivell 4</text>
<text x="599.4" y="923" font-size="17" textLength="158.6" lengthAdjust="spacingAndGlyphs">Espais amb restricció</text>
<text x="599.4" y="939.7" font-size="17" textLength="79.2" lengthAdjust="spacingAndGlyphs">d'accessos</text>
</g>
<g class="ls" fill="#111">
<text x="37" y="992.5" font-size="28" font-weight="bold" textLength="200" lengthAdjust="spacingAndGlyphs">Més informació:</text>
<text x="37.5" y="1017.5" font-size="20.5" fill="#222" textLength="290.5" lengthAdjust="spacingAndGlyphs">https://interior.gencat.cat/plaalfa</text>
</g>
<rect x="0" y="1058.2" width="800" height="73.8" fill="#0a8a40"/>
<g class="ls" fill="#fff" font-weight="bold" font-size="14.5">
<text x="37" y="1081.5" textLength="729" lengthAdjust="spacingAndGlyphs">Elaborat per la Direcció General dels Agents Rurals a partir del mapa de perill d'incendi del Servei d'Anàlisi de</text>
<text x="33" y="1101" textLength="737" lengthAdjust="spacingAndGlyphs">Perill d'Incendis Forestals del Departament d'Agricultura, Ramaderia, Pesca i Alimentació, així com altres eines</text>
<text x="371" y="1120.5" textLength="59" lengthAdjust="spacingAndGlyphs">d'anàlisi.</text>
</g>
<rect x="2" y="1094" width="36" height="36.5" fill="#fff"/>
<path d="M24.4 1096.7 A16 16 0 0 0 10 1124.5" fill="none" stroke="#2a6c9c" stroke-width="2.2"/>
<path d="M30.6 1099.9 A16 16 0 0 1 18.9 1128.1" fill="none" stroke="#16161e" stroke-width="2"/>
<text class="ls" x="20.6" y="1119.6" font-size="22" font-weight="bold" fill="#16161e" text-anchor="middle" textLength="24.8" lengthAdjust="spacingAndGlyphs">24</text>
</svg></body></html>
